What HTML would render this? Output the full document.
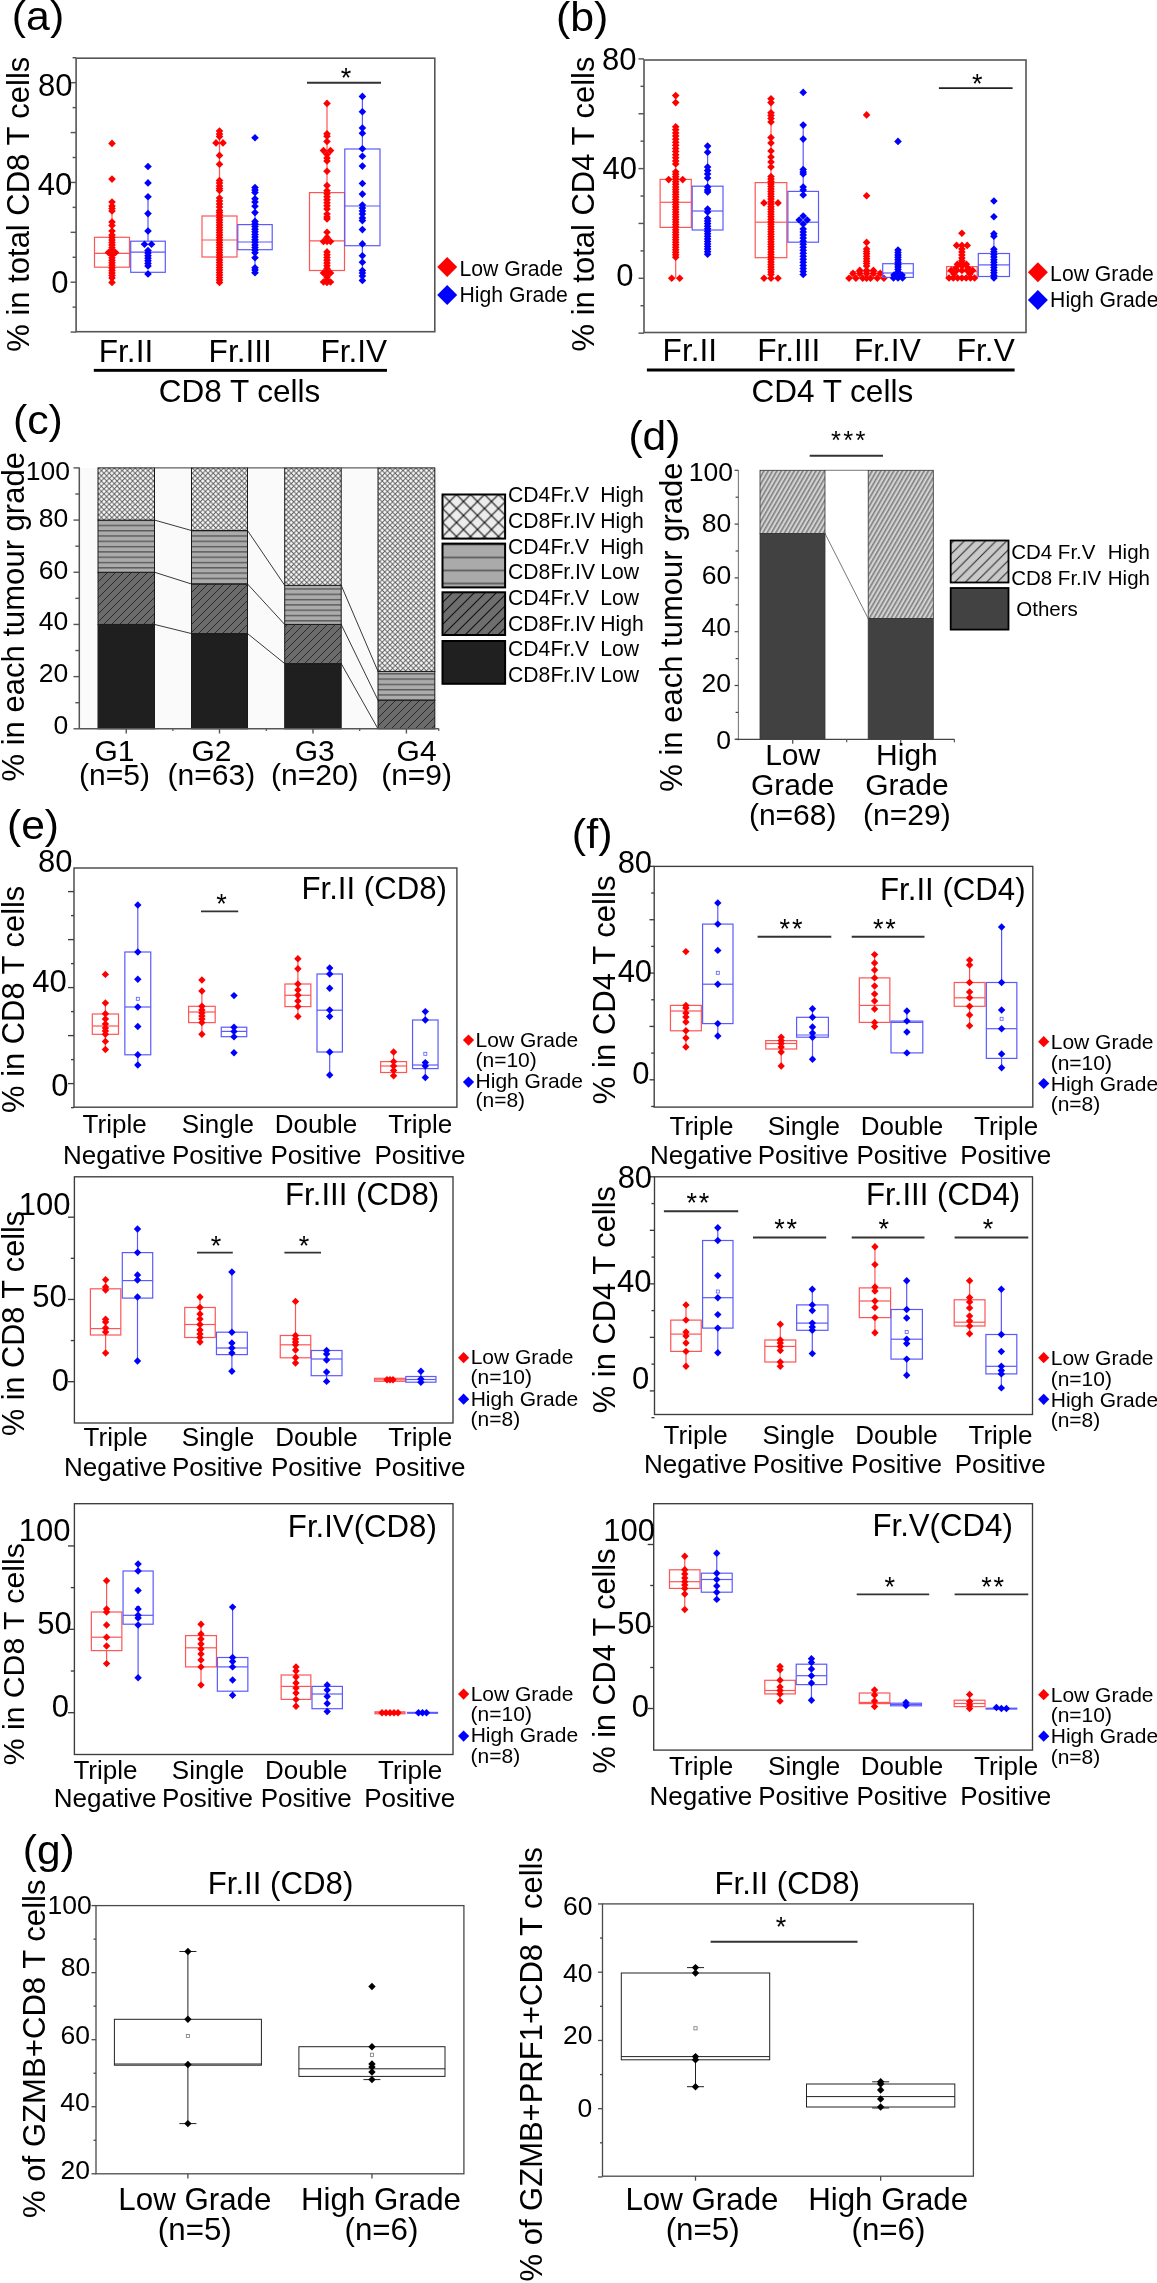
<!DOCTYPE html>
<html><head><meta charset="utf-8"><style>
html,body{margin:0;padding:0;background:#fff;}
svg{display:block;}
text{font-family:"Liberation Sans",sans-serif;}
svg{will-change:transform;}
</style></head><body>
<svg width="1157" height="2283" viewBox="0 0 1157 2283">
<defs>
<pattern id="pcross" patternUnits="userSpaceOnUse" width="5.2" height="5.2">
<rect width="5.2" height="5.2" fill="#fafafa"/>
<path d="M0 0L5.2 5.2M5.2 0L0 5.2" stroke="#5e5e5e" stroke-width="1.0"/>
</pattern>
<pattern id="phoriz" patternUnits="userSpaceOnUse" width="6" height="5.3">
<rect width="6" height="5.3" fill="#ababab"/>
<rect y="0" width="6" height="1.4" fill="#5a5a5a"/>
</pattern>
<pattern id="pdiag" patternUnits="userSpaceOnUse" width="8" height="8" patternTransform="rotate(0)">
<rect width="8" height="8" fill="#6b6b6b"/>
<path d="M-1 9L9 -1M-1 1L1 -1M7 9L9 7" stroke="#2b2b2b" stroke-width="1"/>
</pattern>
<pattern id="lcross" patternUnits="userSpaceOnUse" width="14" height="14" x="442.5" y="494.5">
<rect width="14" height="14" fill="#ececec"/>
<path d="M0 0L14 14M14 0L0 14" stroke="#111" stroke-width="1.2"/>
</pattern>
<pattern id="lhoriz" patternUnits="userSpaceOnUse" width="10" height="13" x="0" y="543.6">
<rect width="10" height="13" fill="#aaaaaa"/>
<rect y="0" width="10" height="1.6" fill="#555"/>
</pattern>
<pattern id="ldiag" patternUnits="userSpaceOnUse" width="11" height="11">
<rect width="11" height="11" fill="#6e6e6e"/>
<path d="M-1 12L12 -1M-1 1L1 -1M10 12L12 10" stroke="#111" stroke-width="1.1"/>
</pattern>
<pattern id="dhatch" patternUnits="userSpaceOnUse" width="3.75" height="10" patternTransform="rotate(30)">
<rect width="3.75" height="10" fill="#d2d2d2"/>
<rect width="1.55" height="10" fill="#7e7e7e"/>
</pattern>
<pattern id="lhatch" patternUnits="userSpaceOnUse" width="10.6" height="10.6">
<rect width="10.6" height="10.6" fill="#c9c9c9"/>
<path d="M-1 11.6L11.6 -1M-1 1L1 -1M9.6 11.6L11.6 9.6" stroke="#222" stroke-width="1"/>
</pattern>
</defs>
<rect width="1157" height="2283" fill="#fff"/>
<text transform="translate(11.85,30.21) scale(1.0439,1)" font-size="41" fill="#000">(a)</text>
<rect x="76.1" y="58.2" width="358.7" height="273.5" fill="none" stroke="#555555" stroke-width="1.6"/>
<line x1="70.6" y1="332.08" x2="76.1" y2="332.08" stroke="#555555" stroke-width="1.44" />
<line x1="72.6" y1="307.14" x2="76.1" y2="307.14" stroke="#555555" stroke-width="1.44" />
<line x1="70.6" y1="282.2" x2="76.1" y2="282.2" stroke="#555555" stroke-width="1.44" />
<line x1="72.6" y1="257.26" x2="76.1" y2="257.26" stroke="#555555" stroke-width="1.44" />
<line x1="70.6" y1="232.32" x2="76.1" y2="232.32" stroke="#555555" stroke-width="1.44" />
<line x1="72.6" y1="207.38" x2="76.1" y2="207.38" stroke="#555555" stroke-width="1.44" />
<line x1="70.6" y1="182.44" x2="76.1" y2="182.44" stroke="#555555" stroke-width="1.44" />
<line x1="72.6" y1="157.5" x2="76.1" y2="157.5" stroke="#555555" stroke-width="1.44" />
<line x1="70.6" y1="132.56" x2="76.1" y2="132.56" stroke="#555555" stroke-width="1.44" />
<line x1="72.6" y1="107.62" x2="76.1" y2="107.62" stroke="#555555" stroke-width="1.44" />
<line x1="70.6" y1="82.68" x2="76.1" y2="82.68" stroke="#555555" stroke-width="1.44" />
<line x1="72.6" y1="57.74" x2="76.1" y2="57.74" stroke="#555555" stroke-width="1.44" />
<text x="37.93" y="95.7" text-anchor="start" font-size="31" fill="#000" xml:space="preserve">80</text>
<text x="37.83" y="194.7" text-anchor="start" font-size="31" fill="#000" xml:space="preserve">40</text>
<text x="51.37" y="293.1" text-anchor="start" font-size="31" fill="#000" xml:space="preserve">0</text>
<text transform="translate(29.4,351.7) rotate(-90)" font-size="30.99" fill="#000">% in total CD8 T cells</text>
<line x1="112" y1="202" x2="112" y2="237.3" stroke="#ff5555" stroke-width="1.2" />
<line x1="112" y1="267.2" x2="112" y2="282.4" stroke="#ff5555" stroke-width="1.2" />
<rect x="94.5" y="237.3" width="35" height="29.9" fill="none" stroke="#ff5555" stroke-width="1.2"/>
<line x1="94.5" y1="253.3" x2="129.5" y2="253.3" stroke="#ff5555" stroke-width="1.2" />
<path d="M112 139.6L115.8 143.4L112 147.2L108.2 143.4Z" fill="#ff0000"/>
<path d="M112 175.3L115.8 179.1L112 182.9L108.2 179.1Z" fill="#ff0000"/>
<path d="M112 198.2L115.8 202L112 205.8L108.2 202Z" fill="#ff0000"/>
<path d="M112 202.2L115.8 206L112 209.8L108.2 206Z" fill="#ff0000"/>
<path d="M112 204.7L115.8 208.5L112 212.3L108.2 208.5Z" fill="#ff0000"/>
<path d="M112 207.2L115.8 211L112 214.8L108.2 211Z" fill="#ff0000"/>
<path d="M112 218.2L115.8 222L112 225.8L108.2 222Z" fill="#ff0000"/>
<path d="M112 221.7L115.8 225.5L112 229.3L108.2 225.5Z" fill="#ff0000"/>
<path d="M112 227.2L115.8 231L112 234.8L108.2 231Z" fill="#ff0000"/>
<path d="M112 231.2L115.8 235L112 238.8L108.2 235Z" fill="#ff0000"/>
<path d="M112 233.73L115.8 237.53L112 241.33L108.2 237.53Z" fill="#ff0000"/>
<path d="M112 236.26L115.8 240.06L112 243.86L108.2 240.06Z" fill="#ff0000"/>
<path d="M112 238.79L115.8 242.59L112 246.39L108.2 242.59Z" fill="#ff0000"/>
<path d="M112 241.32L115.8 245.12L112 248.92L108.2 245.12Z" fill="#ff0000"/>
<path d="M112 243.85L115.8 247.65L112 251.45L108.2 247.65Z" fill="#ff0000"/>
<path d="M112 246.38L115.8 250.18L112 253.98L108.2 250.18Z" fill="#ff0000"/>
<path d="M112 248.91L115.8 252.71L112 256.51L108.2 252.71Z" fill="#ff0000"/>
<path d="M112 251.44L115.8 255.24L112 259.04L108.2 255.24Z" fill="#ff0000"/>
<path d="M112 253.96L115.8 257.76L112 261.56L108.2 257.76Z" fill="#ff0000"/>
<path d="M112 256.49L115.8 260.29L112 264.09L108.2 260.29Z" fill="#ff0000"/>
<path d="M112 259.02L115.8 262.82L112 266.62L108.2 262.82Z" fill="#ff0000"/>
<path d="M112 261.55L115.8 265.35L112 269.15L108.2 265.35Z" fill="#ff0000"/>
<path d="M112 264.08L115.8 267.88L112 271.68L108.2 267.88Z" fill="#ff0000"/>
<path d="M112 266.61L115.8 270.41L112 274.21L108.2 270.41Z" fill="#ff0000"/>
<path d="M112 269.14L115.8 272.94L112 276.74L108.2 272.94Z" fill="#ff0000"/>
<path d="M112 271.67L115.8 275.47L112 279.27L108.2 275.47Z" fill="#ff0000"/>
<path d="M112 274.2L115.8 278L112 281.8L108.2 278Z" fill="#ff0000"/>
<path d="M112 278.6L115.8 282.4L112 286.2L108.2 282.4Z" fill="#ff0000"/>
<path d="M108.5 248.7L112.3 252.5L108.5 256.3L104.7 252.5Z" fill="#ff0000"/>
<path d="M115.5 248.7L119.3 252.5L115.5 256.3L111.7 252.5Z" fill="#ff0000"/>
<line x1="148" y1="196.7" x2="148" y2="241.2" stroke="#5a5aff" stroke-width="1.2" />
<line x1="148" y1="272.3" x2="148" y2="273.9" stroke="#5a5aff" stroke-width="1.2" />
<rect x="130.7" y="241.2" width="34.6" height="31.1" fill="none" stroke="#5a5aff" stroke-width="1.2"/>
<line x1="130.7" y1="252.1" x2="165.3" y2="252.1" stroke="#5a5aff" stroke-width="1.2" />
<path d="M148 162.7L151.8 166.5L148 170.3L144.2 166.5Z" fill="#0000ff"/>
<path d="M148 179.1L151.8 182.9L148 186.7L144.2 182.9Z" fill="#0000ff"/>
<path d="M148 192.9L151.8 196.7L148 200.5L144.2 196.7Z" fill="#0000ff"/>
<path d="M148 209.8L151.8 213.6L148 217.4L144.2 213.6Z" fill="#0000ff"/>
<path d="M148 227.2L151.8 231L148 234.8L144.2 231Z" fill="#0000ff"/>
<path d="M144.5 240.5L148.3 244.3L144.5 248.1L140.7 244.3Z" fill="#0000ff"/>
<path d="M151.5 240.5L155.3 244.3L151.5 248.1L147.7 244.3Z" fill="#0000ff"/>
<path d="M148 246.7L151.8 250.5L148 254.3L144.2 250.5Z" fill="#0000ff"/>
<path d="M148 249.28L151.8 253.08L148 256.88L144.2 253.08Z" fill="#0000ff"/>
<path d="M148 251.87L151.8 255.67L148 259.47L144.2 255.67Z" fill="#0000ff"/>
<path d="M148 254.45L151.8 258.25L148 262.05L144.2 258.25Z" fill="#0000ff"/>
<path d="M148 257.03L151.8 260.83L148 264.63L144.2 260.83Z" fill="#0000ff"/>
<path d="M148 259.62L151.8 263.42L148 267.22L144.2 263.42Z" fill="#0000ff"/>
<path d="M148 262.2L151.8 266L148 269.8L144.2 266Z" fill="#0000ff"/>
<path d="M148 270.1L151.8 273.9L148 277.7L144.2 273.9Z" fill="#0000ff"/>
<line x1="219.5" y1="131" x2="219.5" y2="216" stroke="#ff5555" stroke-width="1.2" />
<line x1="219.5" y1="257" x2="219.5" y2="282.5" stroke="#ff5555" stroke-width="1.2" />
<rect x="202" y="216" width="35" height="41" fill="none" stroke="#ff5555" stroke-width="1.2"/>
<line x1="202" y1="240" x2="237" y2="240" stroke="#ff5555" stroke-width="1.2" />
<path d="M219.5 127.2L223.3 131L219.5 134.8L215.7 131Z" fill="#ff0000"/>
<path d="M219.5 130.2L223.3 134L219.5 137.8L215.7 134Z" fill="#ff0000"/>
<path d="M219.5 132.8L223.3 136.6L219.5 140.4L215.7 136.6Z" fill="#ff0000"/>
<path d="M216 139.1L219.8 142.9L216 146.7L212.2 142.9Z" fill="#ff0000"/>
<path d="M223 139.1L226.8 142.9L223 146.7L219.2 142.9Z" fill="#ff0000"/>
<path d="M219.5 151.6L223.3 155.4L219.5 159.2L215.7 155.4Z" fill="#ff0000"/>
<path d="M219.5 160.4L223.3 164.2L219.5 168L215.7 164.2Z" fill="#ff0000"/>
<path d="M219.5 176.7L223.3 180.5L219.5 184.3L215.7 180.5Z" fill="#ff0000"/>
<path d="M219.5 179.2L223.3 183L219.5 186.8L215.7 183Z" fill="#ff0000"/>
<path d="M219.5 182.2L223.3 186L219.5 189.8L215.7 186Z" fill="#ff0000"/>
<path d="M219.5 184.7L223.3 188.5L219.5 192.3L215.7 188.5Z" fill="#ff0000"/>
<path d="M219.5 186.7L223.3 190.5L219.5 194.3L215.7 190.5Z" fill="#ff0000"/>
<path d="M219.5 194.2L223.3 198L219.5 201.8L215.7 198Z" fill="#ff0000"/>
<path d="M219.5 197.2L223.3 201L219.5 204.8L215.7 201Z" fill="#ff0000"/>
<path d="M219.5 200.2L223.3 204L219.5 207.8L215.7 204Z" fill="#ff0000"/>
<path d="M219.5 203.2L223.3 207L219.5 210.8L215.7 207Z" fill="#ff0000"/>
<path d="M219.5 206.7L223.3 210.5L219.5 214.3L215.7 210.5Z" fill="#ff0000"/>
<path d="M219.5 208.8L223.3 212.6L219.5 216.4L215.7 212.6Z" fill="#ff0000"/>
<path d="M219.5 211.3L223.3 215.1L219.5 218.9L215.7 215.1Z" fill="#ff0000"/>
<path d="M219.5 213.79L223.3 217.59L219.5 221.39L215.7 217.59Z" fill="#ff0000"/>
<path d="M219.5 216.29L223.3 220.09L219.5 223.89L215.7 220.09Z" fill="#ff0000"/>
<path d="M219.5 218.79L223.3 222.59L219.5 226.39L215.7 222.59Z" fill="#ff0000"/>
<path d="M219.5 221.28L223.3 225.08L219.5 228.88L215.7 225.08Z" fill="#ff0000"/>
<path d="M219.5 223.78L223.3 227.58L219.5 231.38L215.7 227.58Z" fill="#ff0000"/>
<path d="M219.5 226.27L223.3 230.07L219.5 233.88L215.7 230.07Z" fill="#ff0000"/>
<path d="M219.5 228.77L223.3 232.57L219.5 236.37L215.7 232.57Z" fill="#ff0000"/>
<path d="M219.5 231.27L223.3 235.07L219.5 238.87L215.7 235.07Z" fill="#ff0000"/>
<path d="M219.5 233.76L223.3 237.56L219.5 241.36L215.7 237.56Z" fill="#ff0000"/>
<path d="M219.5 236.26L223.3 240.06L219.5 243.86L215.7 240.06Z" fill="#ff0000"/>
<path d="M219.5 238.76L223.3 242.56L219.5 246.36L215.7 242.56Z" fill="#ff0000"/>
<path d="M219.5 241.25L223.3 245.05L219.5 248.85L215.7 245.05Z" fill="#ff0000"/>
<path d="M219.5 243.75L223.3 247.55L219.5 251.35L215.7 247.55Z" fill="#ff0000"/>
<path d="M219.5 246.25L223.3 250.05L219.5 253.85L215.7 250.05Z" fill="#ff0000"/>
<path d="M219.5 248.74L223.3 252.54L219.5 256.34L215.7 252.54Z" fill="#ff0000"/>
<path d="M219.5 251.24L223.3 255.04L219.5 258.84L215.7 255.04Z" fill="#ff0000"/>
<path d="M219.5 253.74L223.3 257.54L219.5 261.34L215.7 257.54Z" fill="#ff0000"/>
<path d="M219.5 256.23L223.3 260.03L219.5 263.83L215.7 260.03Z" fill="#ff0000"/>
<path d="M219.5 258.73L223.3 262.53L219.5 266.33L215.7 262.53Z" fill="#ff0000"/>
<path d="M219.5 261.22L223.3 265.02L219.5 268.82L215.7 265.02Z" fill="#ff0000"/>
<path d="M219.5 263.72L223.3 267.52L219.5 271.32L215.7 267.52Z" fill="#ff0000"/>
<path d="M219.5 266.22L223.3 270.02L219.5 273.82L215.7 270.02Z" fill="#ff0000"/>
<path d="M219.5 268.71L223.3 272.51L219.5 276.31L215.7 272.51Z" fill="#ff0000"/>
<path d="M219.5 271.21L223.3 275.01L219.5 278.81L215.7 275.01Z" fill="#ff0000"/>
<path d="M219.5 273.71L223.3 277.51L219.5 281.31L215.7 277.51Z" fill="#ff0000"/>
<path d="M219.5 276.2L223.3 280L219.5 283.8L215.7 280Z" fill="#ff0000"/>
<path d="M219.5 278.7L223.3 282.5L219.5 286.3L215.7 282.5Z" fill="#ff0000"/>
<line x1="255" y1="187.5" x2="255" y2="224.6" stroke="#5a5aff" stroke-width="1.2" />
<line x1="255" y1="249.7" x2="255" y2="272.7" stroke="#5a5aff" stroke-width="1.2" />
<rect x="237.8" y="224.6" width="34.4" height="25.1" fill="none" stroke="#5a5aff" stroke-width="1.2"/>
<line x1="237.8" y1="242" x2="272.2" y2="242" stroke="#5a5aff" stroke-width="1.2" />
<path d="M255 134L258.8 137.8L255 141.6L251.2 137.8Z" fill="#0000ff"/>
<path d="M255 183.7L258.8 187.5L255 191.3L251.2 187.5Z" fill="#0000ff"/>
<path d="M255 186.2L258.8 190L255 193.8L251.2 190Z" fill="#0000ff"/>
<path d="M255 188.7L258.8 192.5L255 196.3L251.2 192.5Z" fill="#0000ff"/>
<path d="M255 195L258.8 198.8L255 202.6L251.2 198.8Z" fill="#0000ff"/>
<path d="M255 198.2L258.8 202L255 205.8L251.2 202Z" fill="#0000ff"/>
<path d="M255 202.5L258.8 206.3L255 210.1L251.2 206.3Z" fill="#0000ff"/>
<path d="M255 208.8L258.8 212.6L255 216.4L251.2 212.6Z" fill="#0000ff"/>
<path d="M255 217.6L258.8 221.4L255 225.2L251.2 221.4Z" fill="#0000ff"/>
<path d="M255 220.21L258.8 224.01L255 227.81L251.2 224.01Z" fill="#0000ff"/>
<path d="M255 222.82L258.8 226.62L255 230.42L251.2 226.62Z" fill="#0000ff"/>
<path d="M255 225.42L258.8 229.22L255 233.03L251.2 229.22Z" fill="#0000ff"/>
<path d="M255 228.03L258.8 231.83L255 235.63L251.2 231.83Z" fill="#0000ff"/>
<path d="M255 230.64L258.8 234.44L255 238.24L251.2 234.44Z" fill="#0000ff"/>
<path d="M255 233.25L258.8 237.05L255 240.85L251.2 237.05Z" fill="#0000ff"/>
<path d="M255 235.86L258.8 239.66L255 243.46L251.2 239.66Z" fill="#0000ff"/>
<path d="M255 238.47L258.8 242.27L255 246.07L251.2 242.27Z" fill="#0000ff"/>
<path d="M255 241.07L258.8 244.88L255 248.68L251.2 244.88Z" fill="#0000ff"/>
<path d="M255 243.68L258.8 247.48L255 251.28L251.2 247.48Z" fill="#0000ff"/>
<path d="M255 246.29L258.8 250.09L255 253.89L251.2 250.09Z" fill="#0000ff"/>
<path d="M255 248.9L258.8 252.7L255 256.5L251.2 252.7Z" fill="#0000ff"/>
<path d="M255 253.9L258.8 257.7L255 261.5L251.2 257.7Z" fill="#0000ff"/>
<path d="M255 263.9L258.8 267.7L255 271.5L251.2 267.7Z" fill="#0000ff"/>
<path d="M255 266.2L258.8 270L255 273.8L251.2 270Z" fill="#0000ff"/>
<path d="M255 268.9L258.8 272.7L255 276.5L251.2 272.7Z" fill="#0000ff"/>
<line x1="327" y1="103.4" x2="327" y2="192.6" stroke="#ff5555" stroke-width="1.2" />
<line x1="327" y1="270.5" x2="327" y2="282.5" stroke="#ff5555" stroke-width="1.2" />
<rect x="309.5" y="192.6" width="35" height="77.9" fill="none" stroke="#ff5555" stroke-width="1.2"/>
<line x1="309.5" y1="240.8" x2="344.5" y2="240.8" stroke="#ff5555" stroke-width="1.2" />
<path d="M327 99.6L330.8 103.4L327 107.2L323.2 103.4Z" fill="#ff0000"/>
<path d="M327 129.9L330.8 133.7L327 137.5L323.2 133.7Z" fill="#ff0000"/>
<path d="M327 132.5L330.8 136.3L327 140.1L323.2 136.3Z" fill="#ff0000"/>
<path d="M327 137.7L330.8 141.5L327 145.3L323.2 141.5Z" fill="#ff0000"/>
<path d="M323.5 146.8L327.3 150.6L323.5 154.4L319.7 150.6Z" fill="#ff0000"/>
<path d="M330.5 146.8L334.3 150.6L330.5 154.4L326.7 150.6Z" fill="#ff0000"/>
<path d="M327 150.7L330.8 154.5L327 158.3L323.2 154.5Z" fill="#ff0000"/>
<path d="M327 154.2L330.8 158L327 161.8L323.2 158Z" fill="#ff0000"/>
<path d="M327 157.2L330.8 161L327 164.8L323.2 161Z" fill="#ff0000"/>
<path d="M327 167.5L330.8 171.3L327 175.1L323.2 171.3Z" fill="#ff0000"/>
<path d="M327 181.8L330.8 185.6L327 189.4L323.2 185.6Z" fill="#ff0000"/>
<path d="M327 186.9L330.8 190.7L327 194.5L323.2 190.7Z" fill="#ff0000"/>
<path d="M327 189.93L330.8 193.73L327 197.53L323.2 193.73Z" fill="#ff0000"/>
<path d="M327 192.97L330.8 196.77L327 200.57L323.2 196.77Z" fill="#ff0000"/>
<path d="M327 196L330.8 199.8L327 203.6L323.2 199.8Z" fill="#ff0000"/>
<path d="M327 199.03L330.8 202.83L327 206.63L323.2 202.83Z" fill="#ff0000"/>
<path d="M327 202.07L330.8 205.87L327 209.67L323.2 205.87Z" fill="#ff0000"/>
<path d="M327 205.1L330.8 208.9L327 212.7L323.2 208.9Z" fill="#ff0000"/>
<path d="M327 210.2L330.8 214L327 217.8L323.2 214Z" fill="#ff0000"/>
<path d="M327 213.2L330.8 217L327 220.8L323.2 217Z" fill="#ff0000"/>
<path d="M327 215.2L330.8 219L327 222.8L323.2 219Z" fill="#ff0000"/>
<path d="M327 228.4L330.8 232.2L327 236L323.2 232.2Z" fill="#ff0000"/>
<path d="M327 233.6L330.8 237.4L327 241.2L323.2 237.4Z" fill="#ff0000"/>
<path d="M323.5 237.7L327.3 241.5L323.5 245.3L319.7 241.5Z" fill="#ff0000"/>
<path d="M330.5 237.7L334.3 241.5L330.5 245.3L326.7 241.5Z" fill="#ff0000"/>
<path d="M327 248.1L330.8 251.9L327 255.7L323.2 251.9Z" fill="#ff0000"/>
<path d="M327 250.88L330.8 254.68L327 258.48L323.2 254.68Z" fill="#ff0000"/>
<path d="M327 253.66L330.8 257.46L327 261.26L323.2 257.46Z" fill="#ff0000"/>
<path d="M327 256.45L330.8 260.25L327 264.05L323.2 260.25Z" fill="#ff0000"/>
<path d="M327 259.23L330.8 263.03L327 266.83L323.2 263.03Z" fill="#ff0000"/>
<path d="M327 262.01L330.8 265.81L327 269.61L323.2 265.81Z" fill="#ff0000"/>
<path d="M327 264.79L330.8 268.59L327 272.39L323.2 268.59Z" fill="#ff0000"/>
<path d="M327 267.57L330.8 271.37L327 275.17L323.2 271.37Z" fill="#ff0000"/>
<path d="M327 270.35L330.8 274.15L327 277.95L323.2 274.15Z" fill="#ff0000"/>
<path d="M327 273.14L330.8 276.94L327 280.74L323.2 276.94Z" fill="#ff0000"/>
<path d="M327 275.92L330.8 279.72L327 283.52L323.2 279.72Z" fill="#ff0000"/>
<path d="M327 278.7L330.8 282.5L327 286.3L323.2 282.5Z" fill="#ff0000"/>
<path d="M323.5 269.1L327.3 272.9L323.5 276.7L319.7 272.9Z" fill="#ff0000"/>
<path d="M330.5 269.1L334.3 272.9L330.5 276.7L326.7 272.9Z" fill="#ff0000"/>
<path d="M323.5 278.2L327.3 282L323.5 285.8L319.7 282Z" fill="#ff0000"/>
<path d="M330.5 278.2L334.3 282L330.5 285.8L326.7 282Z" fill="#ff0000"/>
<path d="M327 237.7L330.8 241.5L327 245.3L323.2 241.5Z" fill="#ff0000"/>
<line x1="362.4" y1="96.4" x2="362.4" y2="149" stroke="#5a5aff" stroke-width="1.2" />
<line x1="362.4" y1="245.7" x2="362.4" y2="282" stroke="#5a5aff" stroke-width="1.2" />
<rect x="344.8" y="149" width="35.2" height="96.7" fill="none" stroke="#5a5aff" stroke-width="1.2"/>
<line x1="344.8" y1="206" x2="380" y2="206" stroke="#5a5aff" stroke-width="1.2" />
<path d="M362.4 92.6L366.2 96.4L362.4 100.2L358.6 96.4Z" fill="#0000ff"/>
<path d="M362.4 107.9L366.2 111.7L362.4 115.5L358.6 111.7Z" fill="#0000ff"/>
<path d="M362.4 124.2L366.2 128L362.4 131.8L358.6 128Z" fill="#0000ff"/>
<path d="M362.4 129.4L366.2 133.2L362.4 137L358.6 133.2Z" fill="#0000ff"/>
<path d="M362.4 144.9L366.2 148.7L362.4 152.5L358.6 148.7Z" fill="#0000ff"/>
<path d="M362.4 152.5L366.2 156.3L362.4 160.1L358.6 156.3Z" fill="#0000ff"/>
<path d="M362.4 162.3L366.2 166.1L362.4 169.9L358.6 166.1Z" fill="#0000ff"/>
<path d="M362.4 179.7L366.2 183.5L362.4 187.3L358.6 183.5Z" fill="#0000ff"/>
<path d="M362.4 190.3L366.2 194.1L362.4 197.9L358.6 194.1Z" fill="#0000ff"/>
<path d="M362.4 201.2L366.2 205L362.4 208.8L358.6 205Z" fill="#0000ff"/>
<path d="M362.4 204.2L366.2 208L362.4 211.8L358.6 208Z" fill="#0000ff"/>
<path d="M362.4 207.2L366.2 211L362.4 214.8L358.6 211Z" fill="#0000ff"/>
<path d="M362.4 210.2L366.2 214L362.4 217.8L358.6 214Z" fill="#0000ff"/>
<path d="M362.4 214.2L366.2 218L362.4 221.8L358.6 218Z" fill="#0000ff"/>
<path d="M362.4 216.8L366.2 220.6L362.4 224.4L358.6 220.6Z" fill="#0000ff"/>
<path d="M362.4 225.8L366.2 229.6L362.4 233.4L358.6 229.6Z" fill="#0000ff"/>
<path d="M362.4 240.1L366.2 243.9L362.4 247.7L358.6 243.9Z" fill="#0000ff"/>
<path d="M362.4 251.9L366.2 255.7L362.4 259.5L358.6 255.7Z" fill="#0000ff"/>
<path d="M362.4 258.4L366.2 262.2L362.4 266L358.6 262.2Z" fill="#0000ff"/>
<path d="M362.4 266.7L366.2 270.5L362.4 274.3L358.6 270.5Z" fill="#0000ff"/>
<path d="M362.4 269.2L366.2 273L362.4 276.8L358.6 273Z" fill="#0000ff"/>
<path d="M362.4 272.2L366.2 276L362.4 279.8L358.6 276Z" fill="#0000ff"/>
<path d="M362.4 276.6L366.2 280.4L362.4 284.2L358.6 280.4Z" fill="#0000ff"/>
<line x1="307" y1="82.8" x2="381" y2="82.8" stroke="#333" stroke-width="1.9" />
<text x="340.64" y="87.33" text-anchor="start" font-size="27" fill="#000" xml:space="preserve">*</text>
<text x="98.8" y="362" text-anchor="start" font-size="31.6" fill="#000" xml:space="preserve">Fr.II</text>
<text x="208.6" y="362" text-anchor="start" font-size="31.6" fill="#000" xml:space="preserve">Fr.III</text>
<text x="320.4" y="362" text-anchor="start" font-size="31.6" fill="#000" xml:space="preserve">Fr.IV</text>
<rect x="93.8" y="368.9" width="293.2" height="2.9" fill="#000" stroke="none" stroke-width="1"/>
<text x="158.7" y="401.7" text-anchor="start" font-size="31.5" fill="#000" xml:space="preserve">CD8 T cells</text>
<path d="M447.2 257L457.2 267L447.2 277L437.2 267Z" fill="#ff0000"/>
<path d="M447.2 285L457.2 295L447.2 305L437.2 295Z" fill="#0000ff"/>
<text x="459.5" y="275.7" text-anchor="start" font-size="21.2" fill="#000" xml:space="preserve">Low Grade</text>
<text x="459.5" y="301.6" text-anchor="start" font-size="21.2" fill="#000" xml:space="preserve">High Grade</text>
<text transform="translate(555.94,30.61) scale(1.0461,1)" font-size="41" fill="#000">(b)</text>
<rect x="644" y="60" width="382" height="272.5" fill="none" stroke="#555555" stroke-width="1.6"/>
<line x1="638.5" y1="333.15" x2="644" y2="333.15" stroke="#555555" stroke-width="1.44" />
<line x1="640.5" y1="305.73" x2="644" y2="305.73" stroke="#555555" stroke-width="1.44" />
<line x1="638.5" y1="278.3" x2="644" y2="278.3" stroke="#555555" stroke-width="1.44" />
<line x1="640.5" y1="250.88" x2="644" y2="250.88" stroke="#555555" stroke-width="1.44" />
<line x1="638.5" y1="223.45" x2="644" y2="223.45" stroke="#555555" stroke-width="1.44" />
<line x1="640.5" y1="196.03" x2="644" y2="196.03" stroke="#555555" stroke-width="1.44" />
<line x1="638.5" y1="168.6" x2="644" y2="168.6" stroke="#555555" stroke-width="1.44" />
<line x1="640.5" y1="141.18" x2="644" y2="141.18" stroke="#555555" stroke-width="1.44" />
<line x1="638.5" y1="113.75" x2="644" y2="113.75" stroke="#555555" stroke-width="1.44" />
<line x1="640.5" y1="86.32" x2="644" y2="86.32" stroke="#555555" stroke-width="1.44" />
<line x1="638.5" y1="58.9" x2="644" y2="58.9" stroke="#555555" stroke-width="1.44" />
<text x="601.93" y="70" text-anchor="start" font-size="31" fill="#000" xml:space="preserve">80</text>
<text x="602.53" y="178.6" text-anchor="start" font-size="31" fill="#000" xml:space="preserve">40</text>
<text x="616.17" y="285.7" text-anchor="start" font-size="31" fill="#000" xml:space="preserve">0</text>
<text transform="translate(594.2,351.5) rotate(-90)" font-size="30.97" fill="#000">% in total CD4 T cells</text>
<line x1="675.7" y1="126.7" x2="675.7" y2="179.4" stroke="#ff5555" stroke-width="1.2" />
<line x1="675.7" y1="227.4" x2="675.7" y2="278.3" stroke="#ff5555" stroke-width="1.2" />
<rect x="660.1" y="179.4" width="31.2" height="48" fill="none" stroke="#ff5555" stroke-width="1.2"/>
<line x1="660.1" y1="202.3" x2="691.3" y2="202.3" stroke="#ff5555" stroke-width="1.2" />
<path d="M675.7 91.8L679.5 95.6L675.7 99.4L671.9 95.6Z" fill="#ff0000"/>
<path d="M675.7 98.8L679.5 102.6L675.7 106.4L671.9 102.6Z" fill="#ff0000"/>
<path d="M675.7 122.9L679.5 126.7L675.7 130.5L671.9 126.7Z" fill="#ff0000"/>
<path d="M675.7 126.01L679.5 129.81L675.7 133.61L671.9 129.81Z" fill="#ff0000"/>
<path d="M675.7 129.12L679.5 132.92L675.7 136.72L671.9 132.92Z" fill="#ff0000"/>
<path d="M675.7 132.22L679.5 136.03L675.7 139.83L671.9 136.03Z" fill="#ff0000"/>
<path d="M675.7 135.33L679.5 139.13L675.7 142.93L671.9 139.13Z" fill="#ff0000"/>
<path d="M675.7 138.44L679.5 142.24L675.7 146.04L671.9 142.24Z" fill="#ff0000"/>
<path d="M675.7 141.55L679.5 145.35L675.7 149.15L671.9 145.35Z" fill="#ff0000"/>
<path d="M675.7 144.66L679.5 148.46L675.7 152.26L671.9 148.46Z" fill="#ff0000"/>
<path d="M675.7 147.77L679.5 151.57L675.7 155.37L671.9 151.57Z" fill="#ff0000"/>
<path d="M675.7 150.88L679.5 154.68L675.7 158.48L671.9 154.68Z" fill="#ff0000"/>
<path d="M675.7 153.98L679.5 157.78L675.7 161.58L671.9 157.78Z" fill="#ff0000"/>
<path d="M675.7 157.09L679.5 160.89L675.7 164.69L671.9 160.89Z" fill="#ff0000"/>
<path d="M675.7 160.2L679.5 164L675.7 167.8L671.9 164Z" fill="#ff0000"/>
<path d="M675.7 168L679.5 171.8L675.7 175.6L671.9 171.8Z" fill="#ff0000"/>
<path d="M675.7 170.51L679.5 174.31L675.7 178.11L671.9 174.31Z" fill="#ff0000"/>
<path d="M675.7 173.03L679.5 176.83L675.7 180.63L671.9 176.83Z" fill="#ff0000"/>
<path d="M675.7 175.54L679.5 179.34L675.7 183.14L671.9 179.34Z" fill="#ff0000"/>
<path d="M675.7 178.06L679.5 181.86L675.7 185.66L671.9 181.86Z" fill="#ff0000"/>
<path d="M675.7 180.57L679.5 184.37L675.7 188.17L671.9 184.37Z" fill="#ff0000"/>
<path d="M675.7 183.09L679.5 186.89L675.7 190.69L671.9 186.89Z" fill="#ff0000"/>
<path d="M675.7 185.6L679.5 189.4L675.7 193.2L671.9 189.4Z" fill="#ff0000"/>
<path d="M675.7 188.12L679.5 191.92L675.7 195.72L671.9 191.92Z" fill="#ff0000"/>
<path d="M675.7 190.63L679.5 194.43L675.7 198.23L671.9 194.43Z" fill="#ff0000"/>
<path d="M675.7 193.15L679.5 196.95L675.7 200.75L671.9 196.95Z" fill="#ff0000"/>
<path d="M675.7 195.66L679.5 199.46L675.7 203.26L671.9 199.46Z" fill="#ff0000"/>
<path d="M675.7 198.18L679.5 201.98L675.7 205.78L671.9 201.98Z" fill="#ff0000"/>
<path d="M675.7 200.69L679.5 204.49L675.7 208.29L671.9 204.49Z" fill="#ff0000"/>
<path d="M675.7 203.21L679.5 207.01L675.7 210.81L671.9 207.01Z" fill="#ff0000"/>
<path d="M675.7 205.72L679.5 209.52L675.7 213.32L671.9 209.52Z" fill="#ff0000"/>
<path d="M675.7 208.24L679.5 212.04L675.7 215.84L671.9 212.04Z" fill="#ff0000"/>
<path d="M675.7 210.75L679.5 214.55L675.7 218.35L671.9 214.55Z" fill="#ff0000"/>
<path d="M675.7 213.26L679.5 217.06L675.7 220.86L671.9 217.06Z" fill="#ff0000"/>
<path d="M675.7 215.78L679.5 219.58L675.7 223.38L671.9 219.58Z" fill="#ff0000"/>
<path d="M675.7 218.29L679.5 222.09L675.7 225.89L671.9 222.09Z" fill="#ff0000"/>
<path d="M675.7 220.81L679.5 224.61L675.7 228.41L671.9 224.61Z" fill="#ff0000"/>
<path d="M675.7 223.32L679.5 227.12L675.7 230.92L671.9 227.12Z" fill="#ff0000"/>
<path d="M675.7 225.84L679.5 229.64L675.7 233.44L671.9 229.64Z" fill="#ff0000"/>
<path d="M675.7 228.35L679.5 232.15L675.7 235.95L671.9 232.15Z" fill="#ff0000"/>
<path d="M675.7 230.87L679.5 234.67L675.7 238.47L671.9 234.67Z" fill="#ff0000"/>
<path d="M675.7 233.38L679.5 237.18L675.7 240.98L671.9 237.18Z" fill="#ff0000"/>
<path d="M675.7 235.9L679.5 239.7L675.7 243.5L671.9 239.7Z" fill="#ff0000"/>
<path d="M675.7 238.41L679.5 242.21L675.7 246.01L671.9 242.21Z" fill="#ff0000"/>
<path d="M675.7 240.93L679.5 244.73L675.7 248.53L671.9 244.73Z" fill="#ff0000"/>
<path d="M675.7 243.44L679.5 247.24L675.7 251.04L671.9 247.24Z" fill="#ff0000"/>
<path d="M675.7 245.96L679.5 249.76L675.7 253.56L671.9 249.76Z" fill="#ff0000"/>
<path d="M675.7 248.47L679.5 252.27L675.7 256.07L671.9 252.27Z" fill="#ff0000"/>
<path d="M675.7 250.99L679.5 254.79L675.7 258.59L671.9 254.79Z" fill="#ff0000"/>
<path d="M675.7 253.5L679.5 257.3L675.7 261.1L671.9 257.3Z" fill="#ff0000"/>
<path d="M668.7 175.8L672.5 179.6L668.7 183.4L664.9 179.6Z" fill="#ff0000"/>
<path d="M682.7 175.8L686.5 179.6L682.7 183.4L678.9 179.6Z" fill="#ff0000"/>
<path d="M671.7 274.5L675.5 278.3L671.7 282.1L667.9 278.3Z" fill="#ff0000"/>
<path d="M679.7 274.5L683.5 278.3L679.7 282.1L675.9 278.3Z" fill="#ff0000"/>
<line x1="707.6" y1="146.1" x2="707.6" y2="186.2" stroke="#5a5aff" stroke-width="1.2" />
<line x1="707.6" y1="230" x2="707.6" y2="254.2" stroke="#5a5aff" stroke-width="1.2" />
<rect x="692.2" y="186.2" width="30.8" height="43.8" fill="none" stroke="#5a5aff" stroke-width="1.2"/>
<line x1="692.2" y1="211" x2="723" y2="211" stroke="#5a5aff" stroke-width="1.2" />
<path d="M707.6 142.3L711.4 146.1L707.6 149.9L703.8 146.1Z" fill="#0000ff"/>
<path d="M707.6 148.5L711.4 152.3L707.6 156.1L703.8 152.3Z" fill="#0000ff"/>
<path d="M707.6 163.2L711.4 167L707.6 170.8L703.8 167Z" fill="#0000ff"/>
<path d="M707.6 166.7L711.4 170.5L707.6 174.3L703.8 170.5Z" fill="#0000ff"/>
<path d="M707.6 170.2L711.4 174L707.6 177.8L703.8 174Z" fill="#0000ff"/>
<path d="M707.6 174.2L711.4 178L707.6 181.8L703.8 178Z" fill="#0000ff"/>
<path d="M707.6 183.2L711.4 187L707.6 190.8L703.8 187Z" fill="#0000ff"/>
<path d="M707.6 186.2L711.4 190L707.6 193.8L703.8 190Z" fill="#0000ff"/>
<path d="M707.6 188.2L711.4 192L707.6 195.8L703.8 192Z" fill="#0000ff"/>
<path d="M707.6 205.2L711.4 209L707.6 212.8L703.8 209Z" fill="#0000ff"/>
<path d="M707.6 208.2L711.4 212L707.6 215.8L703.8 212Z" fill="#0000ff"/>
<path d="M707.6 214.7L711.4 218.5L707.6 222.3L703.8 218.5Z" fill="#0000ff"/>
<path d="M707.6 217.25L711.4 221.05L707.6 224.85L703.8 221.05Z" fill="#0000ff"/>
<path d="M707.6 219.8L711.4 223.6L707.6 227.4L703.8 223.6Z" fill="#0000ff"/>
<path d="M707.6 222.35L711.4 226.15L707.6 229.95L703.8 226.15Z" fill="#0000ff"/>
<path d="M707.6 224.9L711.4 228.7L707.6 232.5L703.8 228.7Z" fill="#0000ff"/>
<path d="M707.6 227.45L711.4 231.25L707.6 235.05L703.8 231.25Z" fill="#0000ff"/>
<path d="M707.6 230L711.4 233.8L707.6 237.6L703.8 233.8Z" fill="#0000ff"/>
<path d="M707.6 232.55L711.4 236.35L707.6 240.15L703.8 236.35Z" fill="#0000ff"/>
<path d="M707.6 235.1L711.4 238.9L707.6 242.7L703.8 238.9Z" fill="#0000ff"/>
<path d="M707.6 237.65L711.4 241.45L707.6 245.25L703.8 241.45Z" fill="#0000ff"/>
<path d="M707.6 240.2L711.4 244L707.6 247.8L703.8 244Z" fill="#0000ff"/>
<path d="M707.6 242.75L711.4 246.55L707.6 250.35L703.8 246.55Z" fill="#0000ff"/>
<path d="M707.6 245.3L711.4 249.1L707.6 252.9L703.8 249.1Z" fill="#0000ff"/>
<path d="M707.6 247.85L711.4 251.65L707.6 255.45L703.8 251.65Z" fill="#0000ff"/>
<path d="M707.6 250.4L711.4 254.2L707.6 258L703.8 254.2Z" fill="#0000ff"/>
<line x1="771" y1="98.7" x2="771" y2="182.6" stroke="#ff5555" stroke-width="1.2" />
<line x1="771" y1="257.7" x2="771" y2="278.3" stroke="#ff5555" stroke-width="1.2" />
<rect x="755.2" y="182.6" width="31.6" height="75.1" fill="none" stroke="#ff5555" stroke-width="1.2"/>
<line x1="755.2" y1="222.2" x2="786.8" y2="222.2" stroke="#ff5555" stroke-width="1.2" />
<path d="M771 94.9L774.8 98.7L771 102.5L767.2 98.7Z" fill="#ff0000"/>
<path d="M771 98.8L774.8 102.6L771 106.4L767.2 102.6Z" fill="#ff0000"/>
<path d="M771 108.9L774.8 112.7L771 116.5L767.2 112.7Z" fill="#ff0000"/>
<path d="M771 111.7L774.8 115.5L771 119.3L767.2 115.5Z" fill="#ff0000"/>
<path d="M771 114.7L774.8 118.5L771 122.3L767.2 118.5Z" fill="#ff0000"/>
<path d="M771 118.2L774.8 122L771 125.8L767.2 122Z" fill="#ff0000"/>
<path d="M771 133.8L774.8 137.6L771 141.4L767.2 137.6Z" fill="#ff0000"/>
<path d="M771 139.2L774.8 143L771 146.8L767.2 143Z" fill="#ff0000"/>
<path d="M771 147.2L774.8 151L771 154.8L767.2 151Z" fill="#ff0000"/>
<path d="M771 153.2L774.8 157L771 160.8L767.2 157Z" fill="#ff0000"/>
<path d="M771 158.2L774.8 162L771 165.8L767.2 162Z" fill="#ff0000"/>
<path d="M771 163.2L774.8 167L771 170.8L767.2 167Z" fill="#ff0000"/>
<path d="M771 172.7L774.8 176.5L771 180.3L767.2 176.5Z" fill="#ff0000"/>
<path d="M771 175.21L774.8 179.01L771 182.81L767.2 179.01Z" fill="#ff0000"/>
<path d="M771 177.73L774.8 181.53L771 185.33L767.2 181.53Z" fill="#ff0000"/>
<path d="M771 180.24L774.8 184.04L771 187.84L767.2 184.04Z" fill="#ff0000"/>
<path d="M771 182.75L774.8 186.55L771 190.35L767.2 186.55Z" fill="#ff0000"/>
<path d="M771 185.26L774.8 189.06L771 192.86L767.2 189.06Z" fill="#ff0000"/>
<path d="M771 187.78L774.8 191.58L771 195.38L767.2 191.58Z" fill="#ff0000"/>
<path d="M771 190.29L774.8 194.09L771 197.89L767.2 194.09Z" fill="#ff0000"/>
<path d="M771 192.8L774.8 196.6L771 200.4L767.2 196.6Z" fill="#ff0000"/>
<path d="M771 195.32L774.8 199.12L771 202.92L767.2 199.12Z" fill="#ff0000"/>
<path d="M771 197.83L774.8 201.63L771 205.43L767.2 201.63Z" fill="#ff0000"/>
<path d="M771 200.34L774.8 204.14L771 207.94L767.2 204.14Z" fill="#ff0000"/>
<path d="M771 202.85L774.8 206.65L771 210.45L767.2 206.65Z" fill="#ff0000"/>
<path d="M771 205.37L774.8 209.17L771 212.97L767.2 209.17Z" fill="#ff0000"/>
<path d="M771 207.88L774.8 211.68L771 215.48L767.2 211.68Z" fill="#ff0000"/>
<path d="M771 210.39L774.8 214.19L771 217.99L767.2 214.19Z" fill="#ff0000"/>
<path d="M771 212.91L774.8 216.71L771 220.51L767.2 216.71Z" fill="#ff0000"/>
<path d="M771 215.42L774.8 219.22L771 223.02L767.2 219.22Z" fill="#ff0000"/>
<path d="M771 217.93L774.8 221.73L771 225.53L767.2 221.73Z" fill="#ff0000"/>
<path d="M771 220.44L774.8 224.24L771 228.04L767.2 224.24Z" fill="#ff0000"/>
<path d="M771 222.96L774.8 226.76L771 230.56L767.2 226.76Z" fill="#ff0000"/>
<path d="M771 225.47L774.8 229.27L771 233.07L767.2 229.27Z" fill="#ff0000"/>
<path d="M771 227.98L774.8 231.78L771 235.58L767.2 231.78Z" fill="#ff0000"/>
<path d="M771 230.49L774.8 234.29L771 238.09L767.2 234.29Z" fill="#ff0000"/>
<path d="M771 233.01L774.8 236.81L771 240.61L767.2 236.81Z" fill="#ff0000"/>
<path d="M771 235.52L774.8 239.32L771 243.12L767.2 239.32Z" fill="#ff0000"/>
<path d="M771 238.03L774.8 241.83L771 245.63L767.2 241.83Z" fill="#ff0000"/>
<path d="M771 240.55L774.8 244.35L771 248.15L767.2 244.35Z" fill="#ff0000"/>
<path d="M771 243.06L774.8 246.86L771 250.66L767.2 246.86Z" fill="#ff0000"/>
<path d="M771 245.57L774.8 249.37L771 253.17L767.2 249.37Z" fill="#ff0000"/>
<path d="M771 248.08L774.8 251.88L771 255.68L767.2 251.88Z" fill="#ff0000"/>
<path d="M771 250.6L774.8 254.4L771 258.2L767.2 254.4Z" fill="#ff0000"/>
<path d="M771 253.11L774.8 256.91L771 260.71L767.2 256.91Z" fill="#ff0000"/>
<path d="M771 255.62L774.8 259.42L771 263.22L767.2 259.42Z" fill="#ff0000"/>
<path d="M771 258.14L774.8 261.94L771 265.74L767.2 261.94Z" fill="#ff0000"/>
<path d="M771 260.65L774.8 264.45L771 268.25L767.2 264.45Z" fill="#ff0000"/>
<path d="M771 263.16L774.8 266.96L771 270.76L767.2 266.96Z" fill="#ff0000"/>
<path d="M771 265.67L774.8 269.47L771 273.27L767.2 269.47Z" fill="#ff0000"/>
<path d="M771 268.19L774.8 271.99L771 275.79L767.2 271.99Z" fill="#ff0000"/>
<path d="M771 270.7L774.8 274.5L771 278.3L767.2 274.5Z" fill="#ff0000"/>
<path d="M764 199.1L767.8 202.9L764 206.7L760.2 202.9Z" fill="#ff0000"/>
<path d="M778 199.1L781.8 202.9L778 206.7L774.2 202.9Z" fill="#ff0000"/>
<path d="M764 274.5L767.8 278.3L764 282.1L760.2 278.3Z" fill="#ff0000"/>
<path d="M778 274.5L781.8 278.3L778 282.1L774.2 278.3Z" fill="#ff0000"/>
<path d="M771 274.5L774.8 278.3L771 282.1L767.2 278.3Z" fill="#ff0000"/>
<line x1="803.2" y1="125.1" x2="803.2" y2="191.4" stroke="#5a5aff" stroke-width="1.2" />
<line x1="803.2" y1="242.2" x2="803.2" y2="274.5" stroke="#5a5aff" stroke-width="1.2" />
<rect x="787.9" y="191.4" width="30.6" height="50.8" fill="none" stroke="#5a5aff" stroke-width="1.2"/>
<line x1="787.9" y1="222.2" x2="818.5" y2="222.2" stroke="#5a5aff" stroke-width="1.2" />
<path d="M803.2 88.6L807 92.4L803.2 96.2L799.4 92.4Z" fill="#0000ff"/>
<path d="M803.2 121.3L807 125.1L803.2 128.9L799.4 125.1Z" fill="#0000ff"/>
<path d="M803.2 135.3L807 139.1L803.2 142.9L799.4 139.1Z" fill="#0000ff"/>
<path d="M803.2 165.7L807 169.5L803.2 173.3L799.4 169.5Z" fill="#0000ff"/>
<path d="M803.2 168.2L807 172L803.2 175.8L799.4 172Z" fill="#0000ff"/>
<path d="M803.2 170.2L807 174L803.2 177.8L799.4 174Z" fill="#0000ff"/>
<path d="M803.2 183.2L807 187L803.2 190.8L799.4 187Z" fill="#0000ff"/>
<path d="M803.2 186.2L807 190L803.2 193.8L799.4 190Z" fill="#0000ff"/>
<path d="M803.2 191.2L807 195L803.2 198.8L799.4 195Z" fill="#0000ff"/>
<path d="M799.2 216.2L803 220L799.2 223.8L795.4 220Z" fill="#0000ff"/>
<path d="M807.2 216.2L811 220L807.2 223.8L803.4 220Z" fill="#0000ff"/>
<path d="M803.2 212.2L807 216L803.2 219.8L799.4 216Z" fill="#0000ff"/>
<path d="M803.2 220.2L807 224L803.2 227.8L799.4 224Z" fill="#0000ff"/>
<path d="M803.2 225.2L807 229L803.2 232.8L799.4 229Z" fill="#0000ff"/>
<path d="M803.2 228.23L807 232.03L803.2 235.83L799.4 232.03Z" fill="#0000ff"/>
<path d="M803.2 231.27L807 235.07L803.2 238.87L799.4 235.07Z" fill="#0000ff"/>
<path d="M803.2 234.3L807 238.1L803.2 241.9L799.4 238.1Z" fill="#0000ff"/>
<path d="M803.2 237.33L807 241.13L803.2 244.93L799.4 241.13Z" fill="#0000ff"/>
<path d="M803.2 240.37L807 244.17L803.2 247.97L799.4 244.17Z" fill="#0000ff"/>
<path d="M803.2 243.4L807 247.2L803.2 251L799.4 247.2Z" fill="#0000ff"/>
<path d="M803.2 246.43L807 250.23L803.2 254.03L799.4 250.23Z" fill="#0000ff"/>
<path d="M803.2 249.47L807 253.27L803.2 257.07L799.4 253.27Z" fill="#0000ff"/>
<path d="M803.2 252.5L807 256.3L803.2 260.1L799.4 256.3Z" fill="#0000ff"/>
<path d="M803.2 255.53L807 259.33L803.2 263.13L799.4 259.33Z" fill="#0000ff"/>
<path d="M803.2 258.57L807 262.37L803.2 266.17L799.4 262.37Z" fill="#0000ff"/>
<path d="M803.2 261.6L807 265.4L803.2 269.2L799.4 265.4Z" fill="#0000ff"/>
<path d="M803.2 264.63L807 268.43L803.2 272.23L799.4 268.43Z" fill="#0000ff"/>
<path d="M803.2 267.67L807 271.47L803.2 275.27L799.4 271.47Z" fill="#0000ff"/>
<path d="M803.2 270.7L807 274.5L803.2 278.3L799.4 274.5Z" fill="#0000ff"/>
<rect x="851.1" y="271.6" width="31" height="5.8" fill="none" stroke="#ff5555" stroke-width="1.2"/>
<line x1="851.1" y1="275.3" x2="882.1" y2="275.3" stroke="#ff5555" stroke-width="1.2" />
<path d="M866.6 111.1L870.4 114.9L866.6 118.7L862.8 114.9Z" fill="#ff0000"/>
<path d="M866.6 192L870.4 195.8L866.6 199.6L862.8 195.8Z" fill="#ff0000"/>
<path d="M866.6 238.6L870.4 242.4L866.6 246.2L862.8 242.4Z" fill="#ff0000"/>
<path d="M866.6 245.2L870.4 249L866.6 252.8L862.8 249Z" fill="#ff0000"/>
<path d="M866.6 247.63L870.4 251.43L866.6 255.23L862.8 251.43Z" fill="#ff0000"/>
<path d="M866.6 250.06L870.4 253.86L866.6 257.66L862.8 253.86Z" fill="#ff0000"/>
<path d="M866.6 252.49L870.4 256.29L866.6 260.09L862.8 256.29Z" fill="#ff0000"/>
<path d="M866.6 254.91L870.4 258.71L866.6 262.51L862.8 258.71Z" fill="#ff0000"/>
<path d="M866.6 257.34L870.4 261.14L866.6 264.94L862.8 261.14Z" fill="#ff0000"/>
<path d="M866.6 259.77L870.4 263.57L866.6 267.37L862.8 263.57Z" fill="#ff0000"/>
<path d="M866.6 262.2L870.4 266L866.6 269.8L862.8 266Z" fill="#ff0000"/>
<path d="M859.8 266.6L863.6 270.4L859.8 274.2L856 270.4Z" fill="#ff0000"/>
<path d="M866.6 266.6L870.4 270.4L866.6 274.2L862.8 270.4Z" fill="#ff0000"/>
<path d="M873.4 266.6L877.2 270.4L873.4 274.2L869.6 270.4Z" fill="#ff0000"/>
<path d="M853 269.6L856.8 273.4L853 277.2L849.2 273.4Z" fill="#ff0000"/>
<path d="M859.8 269.6L863.6 273.4L859.8 277.2L856 273.4Z" fill="#ff0000"/>
<path d="M866.6 269.6L870.4 273.4L866.6 277.2L862.8 273.4Z" fill="#ff0000"/>
<path d="M873.4 269.6L877.2 273.4L873.4 277.2L869.6 273.4Z" fill="#ff0000"/>
<path d="M880.2 269.6L884 273.4L880.2 277.2L876.4 273.4Z" fill="#ff0000"/>
<path d="M849 274.5L852.8 278.3L849 282.1L845.2 278.3Z" fill="#ff0000"/>
<path d="M855.9 274.5L859.7 278.3L855.9 282.1L852.1 278.3Z" fill="#ff0000"/>
<path d="M862.7 274.5L866.5 278.3L862.7 282.1L858.9 278.3Z" fill="#ff0000"/>
<path d="M866.6 274.5L870.4 278.3L866.6 282.1L862.8 278.3Z" fill="#ff0000"/>
<path d="M870.5 274.5L874.3 278.3L870.5 282.1L866.7 278.3Z" fill="#ff0000"/>
<path d="M877.3 274.5L881.1 278.3L877.3 282.1L873.5 278.3Z" fill="#ff0000"/>
<path d="M883.9 274.5L887.7 278.3L883.9 282.1L880.1 278.3Z" fill="#ff0000"/>
<rect x="882.7" y="263.7" width="30.6" height="13.7" fill="none" stroke="#5a5aff" stroke-width="1.2"/>
<line x1="882.7" y1="273" x2="913.3" y2="273" stroke="#5a5aff" stroke-width="1.2" />
<path d="M898 137.6L901.8 141.4L898 145.2L894.2 141.4Z" fill="#0000ff"/>
<path d="M898 246.2L901.8 250L898 253.8L894.2 250Z" fill="#0000ff"/>
<path d="M898 248.64L901.8 252.44L898 256.24L894.2 252.44Z" fill="#0000ff"/>
<path d="M898 251.09L901.8 254.89L898 258.69L894.2 254.89Z" fill="#0000ff"/>
<path d="M898 253.53L901.8 257.33L898 261.13L894.2 257.33Z" fill="#0000ff"/>
<path d="M898 255.98L901.8 259.78L898 263.58L894.2 259.78Z" fill="#0000ff"/>
<path d="M898 258.42L901.8 262.22L898 266.02L894.2 262.22Z" fill="#0000ff"/>
<path d="M898 260.87L901.8 264.67L898 268.47L894.2 264.67Z" fill="#0000ff"/>
<path d="M898 263.31L901.8 267.11L898 270.91L894.2 267.11Z" fill="#0000ff"/>
<path d="M898 265.76L901.8 269.56L898 273.36L894.2 269.56Z" fill="#0000ff"/>
<path d="M898 268.2L901.8 272L898 275.8L894.2 272Z" fill="#0000ff"/>
<path d="M894 271.2L897.8 275L894 278.8L890.2 275Z" fill="#0000ff"/>
<path d="M902 271.2L905.8 275L902 278.8L898.2 275Z" fill="#0000ff"/>
<path d="M893.5 274.2L897.3 278L893.5 281.8L889.7 278Z" fill="#0000ff"/>
<path d="M898 274.2L901.8 278L898 281.8L894.2 278Z" fill="#0000ff"/>
<path d="M902.5 274.2L906.3 278L902.5 281.8L898.7 278Z" fill="#0000ff"/>
<rect x="946.6" y="266.6" width="30.6" height="10.4" fill="none" stroke="#ff5555" stroke-width="1.2"/>
<line x1="946.6" y1="271.6" x2="977.2" y2="271.6" stroke="#ff5555" stroke-width="1.2" />
<path d="M961.9 229.5L965.7 233.3L961.9 237.1L958.1 233.3Z" fill="#ff0000"/>
<path d="M956.6 241.6L960.4 245.4L956.6 249.2L952.8 245.4Z" fill="#ff0000"/>
<path d="M961.9 241.6L965.7 245.4L961.9 249.2L958.1 245.4Z" fill="#ff0000"/>
<path d="M967.2 241.6L971 245.4L967.2 249.2L963.4 245.4Z" fill="#ff0000"/>
<path d="M961.9 245.2L965.7 249L961.9 252.8L958.1 249Z" fill="#ff0000"/>
<path d="M961.9 248.2L965.7 252L961.9 255.8L958.1 252Z" fill="#ff0000"/>
<path d="M961.9 251.2L965.7 255L961.9 258.8L958.1 255Z" fill="#ff0000"/>
<path d="M961.9 254.2L965.7 258L961.9 261.8L958.1 258Z" fill="#ff0000"/>
<path d="M961.9 256.87L965.7 260.67L961.9 264.47L958.1 260.67Z" fill="#ff0000"/>
<path d="M961.9 259.53L965.7 263.33L961.9 267.13L958.1 263.33Z" fill="#ff0000"/>
<path d="M961.9 262.2L965.7 266L961.9 269.8L958.1 266Z" fill="#ff0000"/>
<path d="M957.4 260.5L961.2 264.3L957.4 268.1L953.6 264.3Z" fill="#ff0000"/>
<path d="M966.4 260.5L970.2 264.3L966.4 268.1L962.6 264.3Z" fill="#ff0000"/>
<path d="M955.9 264.2L959.7 268L955.9 271.8L952.1 268Z" fill="#ff0000"/>
<path d="M967.9 264.2L971.7 268L967.9 271.8L964.1 268Z" fill="#ff0000"/>
<path d="M951.2 266.6L955 270.4L951.2 274.2L947.4 270.4Z" fill="#ff0000"/>
<path d="M956.6 266.6L960.4 270.4L956.6 274.2L952.8 270.4Z" fill="#ff0000"/>
<path d="M961.9 266.6L965.7 270.4L961.9 274.2L958.1 270.4Z" fill="#ff0000"/>
<path d="M967.2 266.6L971 270.4L967.2 274.2L963.4 270.4Z" fill="#ff0000"/>
<path d="M972.6 266.6L976.4 270.4L972.6 274.2L968.8 270.4Z" fill="#ff0000"/>
<path d="M953.9 270.2L957.7 274L953.9 277.8L950.1 274Z" fill="#ff0000"/>
<path d="M969.9 270.2L973.7 274L969.9 277.8L966.1 274Z" fill="#ff0000"/>
<path d="M949 274.2L952.8 278L949 281.8L945.2 278Z" fill="#ff0000"/>
<path d="M953.3 274.2L957.1 278L953.3 281.8L949.5 278Z" fill="#ff0000"/>
<path d="M957.6 274.2L961.4 278L957.6 281.8L953.8 278Z" fill="#ff0000"/>
<path d="M961.9 274.2L965.7 278L961.9 281.8L958.1 278Z" fill="#ff0000"/>
<path d="M966.2 274.2L970 278L966.2 281.8L962.4 278Z" fill="#ff0000"/>
<path d="M970.5 274.2L974.3 278L970.5 281.8L966.7 278Z" fill="#ff0000"/>
<path d="M974.6 274.2L978.4 278L974.6 281.8L970.8 278Z" fill="#ff0000"/>
<line x1="993.9" y1="233.7" x2="993.9" y2="253.5" stroke="#5a5aff" stroke-width="1.2" />
<line x1="993.9" y1="276.5" x2="993.9" y2="277.4" stroke="#5a5aff" stroke-width="1.2" />
<rect x="978.3" y="253.5" width="31.2" height="23" fill="none" stroke="#5a5aff" stroke-width="1.2"/>
<line x1="978.3" y1="264.9" x2="1009.5" y2="264.9" stroke="#5a5aff" stroke-width="1.2" />
<path d="M993.9 197.2L997.7 201L993.9 204.8L990.1 201Z" fill="#0000ff"/>
<path d="M993.9 213L997.7 216.8L993.9 220.6L990.1 216.8Z" fill="#0000ff"/>
<path d="M993.9 229.9L997.7 233.7L993.9 237.5L990.1 233.7Z" fill="#0000ff"/>
<path d="M993.9 232.5L997.7 236.3L993.9 240.1L990.1 236.3Z" fill="#0000ff"/>
<path d="M993.9 245.4L997.7 249.2L993.9 253L990.1 249.2Z" fill="#0000ff"/>
<path d="M993.9 248.02L997.7 251.82L993.9 255.62L990.1 251.82Z" fill="#0000ff"/>
<path d="M993.9 250.64L997.7 254.44L993.9 258.24L990.1 254.44Z" fill="#0000ff"/>
<path d="M993.9 253.25L997.7 257.05L993.9 260.85L990.1 257.05Z" fill="#0000ff"/>
<path d="M993.9 255.87L997.7 259.67L993.9 263.47L990.1 259.67Z" fill="#0000ff"/>
<path d="M993.9 258.49L997.7 262.29L993.9 266.09L990.1 262.29Z" fill="#0000ff"/>
<path d="M993.9 261.11L997.7 264.91L993.9 268.71L990.1 264.91Z" fill="#0000ff"/>
<path d="M993.9 263.73L997.7 267.53L993.9 271.33L990.1 267.53Z" fill="#0000ff"/>
<path d="M993.9 266.35L997.7 270.15L993.9 273.95L990.1 270.15Z" fill="#0000ff"/>
<path d="M993.9 268.96L997.7 272.76L993.9 276.56L990.1 272.76Z" fill="#0000ff"/>
<path d="M993.9 271.58L997.7 275.38L993.9 279.18L990.1 275.38Z" fill="#0000ff"/>
<path d="M993.9 274.2L997.7 278L993.9 281.8L990.1 278Z" fill="#0000ff"/>
<line x1="938.9" y1="88.1" x2="1012.6" y2="88.1" stroke="#222" stroke-width="1.9" />
<text x="972.04" y="92.73" text-anchor="start" font-size="27" fill="#000" xml:space="preserve">*</text>
<text x="662.6" y="361" text-anchor="start" font-size="31.6" fill="#000" xml:space="preserve">Fr.II</text>
<text x="757.2" y="361" text-anchor="start" font-size="31.6" fill="#000" xml:space="preserve">Fr.III</text>
<text x="854" y="361" text-anchor="start" font-size="31.6" fill="#000" xml:space="preserve">Fr.IV</text>
<text x="956.8" y="361" text-anchor="start" font-size="31.6" fill="#000" xml:space="preserve">Fr.V</text>
<rect x="646.9" y="368.5" width="367.7" height="3" fill="#000" stroke="none" stroke-width="1"/>
<text x="751.5" y="401.7" text-anchor="start" font-size="31.5" fill="#000" xml:space="preserve">CD4 T cells</text>
<path d="M1037.9 262.2L1047.9 272.2L1037.9 282.2L1027.9 272.2Z" fill="#ff0000"/>
<path d="M1037.9 290L1047.9 300L1037.9 310L1027.9 300Z" fill="#0000ff"/>
<text x="1050.1" y="281.2" text-anchor="start" font-size="21.2" fill="#000" xml:space="preserve">Low Grade</text>
<text x="1050.1" y="306.5" text-anchor="start" font-size="21.2" fill="#000" xml:space="preserve">High Grade</text>
<text transform="translate(12.95,434.21) scale(1.0440,1)" font-size="41" fill="#000">(c)</text>
<rect x="79" y="468" width="359.8" height="260.4" fill="#fafafa" stroke="none" stroke-width="1"/>
<rect x="98" y="624.44" width="56.5" height="104.36" fill="#1f1f1f" stroke="#1a1a1a" stroke-width="1"/>
<rect x="98" y="572.26" width="56.5" height="52.18" fill="url(#pdiag)" stroke="#1a1a1a" stroke-width="1"/>
<rect x="98" y="520.08" width="56.5" height="52.18" fill="url(#phoriz)" stroke="#1a1a1a" stroke-width="1"/>
<rect x="98" y="467.9" width="56.5" height="52.18" fill="url(#pcross)" stroke="#1a1a1a" stroke-width="1"/>
<rect x="191.5" y="633.57" width="56" height="95.23" fill="#1f1f1f" stroke="#1a1a1a" stroke-width="1"/>
<rect x="191.5" y="584" width="56" height="49.57" fill="url(#pdiag)" stroke="#1a1a1a" stroke-width="1"/>
<rect x="191.5" y="530.52" width="56" height="53.48" fill="url(#phoriz)" stroke="#1a1a1a" stroke-width="1"/>
<rect x="191.5" y="467.9" width="56" height="62.62" fill="url(#pcross)" stroke="#1a1a1a" stroke-width="1"/>
<rect x="284.7" y="663.57" width="56.5" height="65.23" fill="#1f1f1f" stroke="#1a1a1a" stroke-width="1"/>
<rect x="284.7" y="624.44" width="56.5" height="39.13" fill="url(#pdiag)" stroke="#1a1a1a" stroke-width="1"/>
<rect x="284.7" y="585.3" width="56.5" height="39.13" fill="url(#phoriz)" stroke="#1a1a1a" stroke-width="1"/>
<rect x="284.7" y="467.9" width="56.5" height="117.4" fill="url(#pcross)" stroke="#1a1a1a" stroke-width="1"/>
<rect x="378" y="700.1" width="56.8" height="28.7" fill="url(#pdiag)" stroke="#1a1a1a" stroke-width="1"/>
<rect x="378" y="671.4" width="56.8" height="28.7" fill="url(#phoriz)" stroke="#1a1a1a" stroke-width="1"/>
<rect x="378" y="467.9" width="56.8" height="203.5" fill="url(#pcross)" stroke="#1a1a1a" stroke-width="1"/>
<line x1="154.5" y1="624.44" x2="191.5" y2="633.57" stroke="#222" stroke-width="0.9" />
<line x1="154.5" y1="572.26" x2="191.5" y2="584" stroke="#222" stroke-width="0.9" />
<line x1="154.5" y1="520.08" x2="191.5" y2="530.52" stroke="#222" stroke-width="0.9" />
<line x1="154.5" y1="467.9" x2="191.5" y2="467.9" stroke="#222" stroke-width="0.9" />
<line x1="247.5" y1="633.57" x2="284.7" y2="663.57" stroke="#222" stroke-width="0.9" />
<line x1="247.5" y1="584" x2="284.7" y2="624.44" stroke="#222" stroke-width="0.9" />
<line x1="247.5" y1="530.52" x2="284.7" y2="585.3" stroke="#222" stroke-width="0.9" />
<line x1="247.5" y1="467.9" x2="284.7" y2="467.9" stroke="#222" stroke-width="0.9" />
<line x1="341.2" y1="663.57" x2="378" y2="728.8" stroke="#222" stroke-width="0.9" />
<line x1="341.2" y1="624.44" x2="378" y2="700.1" stroke="#222" stroke-width="0.9" />
<line x1="341.2" y1="585.3" x2="378" y2="671.4" stroke="#222" stroke-width="0.9" />
<line x1="341.2" y1="467.9" x2="378" y2="467.9" stroke="#222" stroke-width="0.9" />
<line x1="79.3" y1="467.5" x2="79.3" y2="728.8" stroke="#555555" stroke-width="1.5" />
<line x1="79.3" y1="728.8" x2="438.8" y2="728.8" stroke="#555555" stroke-width="1.5" />
<line x1="73.5" y1="728.8" x2="79.3" y2="728.8" stroke="#555555" stroke-width="1.4" />
<line x1="75.3" y1="702.71" x2="79.3" y2="702.71" stroke="#555555" stroke-width="1.4" />
<line x1="73.5" y1="676.62" x2="79.3" y2="676.62" stroke="#555555" stroke-width="1.4" />
<line x1="75.3" y1="650.53" x2="79.3" y2="650.53" stroke="#555555" stroke-width="1.4" />
<line x1="73.5" y1="624.44" x2="79.3" y2="624.44" stroke="#555555" stroke-width="1.4" />
<line x1="75.3" y1="598.35" x2="79.3" y2="598.35" stroke="#555555" stroke-width="1.4" />
<line x1="73.5" y1="572.26" x2="79.3" y2="572.26" stroke="#555555" stroke-width="1.4" />
<line x1="75.3" y1="546.17" x2="79.3" y2="546.17" stroke="#555555" stroke-width="1.4" />
<line x1="73.5" y1="520.08" x2="79.3" y2="520.08" stroke="#555555" stroke-width="1.4" />
<line x1="75.3" y1="493.99" x2="79.3" y2="493.99" stroke="#555555" stroke-width="1.4" />
<line x1="73.5" y1="467.9" x2="79.3" y2="467.9" stroke="#555555" stroke-width="1.4" />
<text x="25.72" y="480.24" text-anchor="start" font-size="26.5" fill="#000" xml:space="preserve">100</text>
<text x="38.86" y="527.14" text-anchor="start" font-size="26.5" fill="#000" xml:space="preserve">80</text>
<text x="38.86" y="579.24" text-anchor="start" font-size="26.5" fill="#000" xml:space="preserve">60</text>
<text x="38.86" y="630.44" text-anchor="start" font-size="26.5" fill="#000" xml:space="preserve">40</text>
<text x="38.86" y="682.24" text-anchor="start" font-size="26.5" fill="#000" xml:space="preserve">20</text>
<text x="53.6" y="734.44" text-anchor="start" font-size="26.5" fill="#000" xml:space="preserve">0</text>
<line x1="126.25" y1="728.4" x2="126.25" y2="733.5" stroke="#555555" stroke-width="1.4" />
<line x1="219.5" y1="728.4" x2="219.5" y2="733.5" stroke="#555555" stroke-width="1.4" />
<line x1="313" y1="728.4" x2="313" y2="733.5" stroke="#555555" stroke-width="1.4" />
<line x1="406.4" y1="728.4" x2="406.4" y2="733.5" stroke="#555555" stroke-width="1.4" />
<line x1="172.9" y1="728.4" x2="172.9" y2="731" stroke="#555555" stroke-width="1.2" />
<line x1="266.3" y1="728.4" x2="266.3" y2="731" stroke="#555555" stroke-width="1.2" />
<line x1="359.7" y1="728.4" x2="359.7" y2="731" stroke="#555555" stroke-width="1.2" />
<line x1="438.8" y1="728.4" x2="438.8" y2="731" stroke="#555555" stroke-width="1.2" />
<text transform="translate(24.2,781.51) rotate(-90)" font-size="31.04" fill="#000">% in each tumour grade</text>
<text x="114.5" y="761.2" text-anchor="middle" font-size="30" fill="#000" xml:space="preserve">G1</text>
<text x="114.5" y="784.6" text-anchor="middle" font-size="30" fill="#000" xml:space="preserve">(n=5)</text>
<text x="211.4" y="761.2" text-anchor="middle" font-size="30" fill="#000" xml:space="preserve">G2</text>
<text x="211.4" y="784.6" text-anchor="middle" font-size="30" fill="#000" xml:space="preserve">(n=63)</text>
<text x="314.8" y="761.2" text-anchor="middle" font-size="30" fill="#000" xml:space="preserve">G3</text>
<text x="314.8" y="784.6" text-anchor="middle" font-size="30" fill="#000" xml:space="preserve">(n=20)</text>
<text x="416.6" y="761.2" text-anchor="middle" font-size="30" fill="#000" xml:space="preserve">G4</text>
<text x="416.6" y="784.6" text-anchor="middle" font-size="30" fill="#000" xml:space="preserve">(n=9)</text>
<rect x="442.5" y="494.5" width="62.6" height="44.1" fill="url(#lcross)" stroke="#000" stroke-width="2"/>
<rect x="442.5" y="543.6" width="62.6" height="43.8" fill="url(#lhoriz)" stroke="#000" stroke-width="2"/>
<rect x="442.5" y="592.3" width="62.6" height="42.7" fill="url(#ldiag)" stroke="#000" stroke-width="2"/>
<rect x="442.5" y="641" width="62.6" height="42.8" fill="#202020" stroke="#000" stroke-width="2"/>
<text x="508" y="501.9" text-anchor="start" font-size="21.2" fill="#000" xml:space="preserve">CD4Fr.V</text>
<text x="600.3" y="501.9" text-anchor="start" font-size="21.2" fill="#000" xml:space="preserve">High</text>
<text x="508" y="527.7" text-anchor="start" font-size="21.2" fill="#000" xml:space="preserve">CD8Fr.IV</text>
<text x="600.3" y="527.7" text-anchor="start" font-size="21.2" fill="#000" xml:space="preserve">High</text>
<text x="508" y="553.6" text-anchor="start" font-size="21.2" fill="#000" xml:space="preserve">CD4Fr.V</text>
<text x="600.3" y="553.6" text-anchor="start" font-size="21.2" fill="#000" xml:space="preserve">High</text>
<text x="508" y="579.4" text-anchor="start" font-size="21.2" fill="#000" xml:space="preserve">CD8Fr.IV</text>
<text x="600.3" y="579.4" text-anchor="start" font-size="21.2" fill="#000" xml:space="preserve">Low</text>
<text x="508" y="605.2" text-anchor="start" font-size="21.2" fill="#000" xml:space="preserve">CD4Fr.V</text>
<text x="600.3" y="605.2" text-anchor="start" font-size="21.2" fill="#000" xml:space="preserve">Low</text>
<text x="508" y="630.5" text-anchor="start" font-size="21.2" fill="#000" xml:space="preserve">CD8Fr.IV</text>
<text x="600.3" y="630.5" text-anchor="start" font-size="21.2" fill="#000" xml:space="preserve">High</text>
<text x="508" y="656.3" text-anchor="start" font-size="21.2" fill="#000" xml:space="preserve">CD4Fr.V</text>
<text x="600.3" y="656.3" text-anchor="start" font-size="21.2" fill="#000" xml:space="preserve">Low</text>
<text x="508" y="681.8" text-anchor="start" font-size="21.2" fill="#000" xml:space="preserve">CD8Fr.IV</text>
<text x="600.3" y="681.8" text-anchor="start" font-size="21.2" fill="#000" xml:space="preserve">Low</text>
<text transform="translate(628.47,449.61) scale(1.0350,1)" font-size="41" fill="#000">(d)</text>
<rect x="760" y="470.3" width="65" height="63.22" fill="url(#dhatch)" stroke="#333" stroke-width="0.8"/>
<rect x="760" y="533.51" width="65" height="205.78" fill="#414141" stroke="#333" stroke-width="0.8"/>
<rect x="868.2" y="470.3" width="65.1" height="148.22" fill="url(#dhatch)" stroke="#333" stroke-width="0.8"/>
<rect x="868.2" y="618.52" width="65.1" height="120.78" fill="#414141" stroke="#333" stroke-width="0.8"/>
<line x1="825" y1="470.3" x2="868.2" y2="470.3" stroke="#555" stroke-width="0.8" />
<line x1="825" y1="533.51" x2="868.2" y2="618.52" stroke="#555" stroke-width="0.8" />
<line x1="738.4" y1="470.3" x2="738.4" y2="740.3" stroke="#7a7a7a" stroke-width="1.1" />
<line x1="735.4" y1="739.3" x2="954.4" y2="739.3" stroke="#444" stroke-width="1.3" />
<line x1="734.6" y1="739.3" x2="738.4" y2="739.3" stroke="#444" stroke-width="1.2" />
<line x1="735.6" y1="712.4" x2="738.4" y2="712.4" stroke="#444" stroke-width="1.2" />
<line x1="734.6" y1="685.5" x2="738.4" y2="685.5" stroke="#444" stroke-width="1.2" />
<line x1="735.6" y1="658.6" x2="738.4" y2="658.6" stroke="#444" stroke-width="1.2" />
<line x1="734.6" y1="631.7" x2="738.4" y2="631.7" stroke="#444" stroke-width="1.2" />
<line x1="735.6" y1="604.8" x2="738.4" y2="604.8" stroke="#444" stroke-width="1.2" />
<line x1="734.6" y1="577.9" x2="738.4" y2="577.9" stroke="#444" stroke-width="1.2" />
<line x1="735.6" y1="551" x2="738.4" y2="551" stroke="#444" stroke-width="1.2" />
<line x1="734.6" y1="524.1" x2="738.4" y2="524.1" stroke="#444" stroke-width="1.2" />
<line x1="735.6" y1="497.2" x2="738.4" y2="497.2" stroke="#444" stroke-width="1.2" />
<line x1="734.6" y1="470.3" x2="738.4" y2="470.3" stroke="#444" stroke-width="1.2" />
<text x="688.72" y="480.54" text-anchor="start" font-size="26.5" fill="#000" xml:space="preserve">100</text>
<text x="701.66" y="532.34" text-anchor="start" font-size="26.5" fill="#000" xml:space="preserve">80</text>
<text x="701.66" y="584.14" text-anchor="start" font-size="26.5" fill="#000" xml:space="preserve">60</text>
<text x="701.56" y="635.54" text-anchor="start" font-size="26.5" fill="#000" xml:space="preserve">40</text>
<text x="701.56" y="692.34" text-anchor="start" font-size="26.5" fill="#000" xml:space="preserve">20</text>
<text x="716.3" y="749.44" text-anchor="start" font-size="26.5" fill="#000" xml:space="preserve">0</text>
<line x1="792.7" y1="739.3" x2="792.7" y2="743.8" stroke="#555555" stroke-width="1.3" />
<line x1="900.7" y1="739.3" x2="900.7" y2="743.8" stroke="#555555" stroke-width="1.3" />
<line x1="846.7" y1="739.3" x2="846.7" y2="742.3" stroke="#555555" stroke-width="1.2" />
<line x1="954.4" y1="739.3" x2="954.4" y2="742.3" stroke="#555555" stroke-width="1.2" />
<line x1="809.7" y1="455.7" x2="883" y2="455.7" stroke="#333" stroke-width="1.9" />
<text x="830.93" y="449.37" text-anchor="start" font-size="25.5" fill="#000" xml:space="preserve">*</text>
<text x="843.23" y="449.37" text-anchor="start" font-size="25.5" fill="#000" xml:space="preserve">*</text>
<text x="855.53" y="449.37" text-anchor="start" font-size="25.5" fill="#000" xml:space="preserve">*</text>
<text transform="translate(682,791.7) rotate(-90)" font-size="31" fill="#000">% in each tumour grade</text>
<text x="792.7" y="765" text-anchor="middle" font-size="30" fill="#000" xml:space="preserve">Low</text>
<text x="792.7" y="795" text-anchor="middle" font-size="30" fill="#000" xml:space="preserve">Grade</text>
<text x="792.7" y="824.5" text-anchor="middle" font-size="30" fill="#000" xml:space="preserve">(n=68)</text>
<text x="906.9" y="765" text-anchor="middle" font-size="30" fill="#000" xml:space="preserve">High</text>
<text x="906.9" y="795" text-anchor="middle" font-size="30" fill="#000" xml:space="preserve">Grade</text>
<text x="906.9" y="824.5" text-anchor="middle" font-size="30" fill="#000" xml:space="preserve">(n=29)</text>
<rect x="950.7" y="540.5" width="57.8" height="42" fill="url(#lhatch)" stroke="#000" stroke-width="1.8"/>
<rect x="950.7" y="588" width="57.8" height="41.6" fill="#424242" stroke="#000" stroke-width="1.8"/>
<text x="1011.16" y="559" text-anchor="start" font-size="20.5" fill="#000" xml:space="preserve">CD4 Fr.V</text>
<text x="1107.82" y="559" text-anchor="start" font-size="20.5" fill="#000" xml:space="preserve">High</text>
<text x="1011.16" y="585.1" text-anchor="start" font-size="20.5" fill="#000" xml:space="preserve">CD8 Fr.IV</text>
<text x="1107.82" y="585.1" text-anchor="start" font-size="20.5" fill="#000" xml:space="preserve">High</text>
<text x="1016.33" y="615.9" text-anchor="start" font-size="20.5" fill="#000" xml:space="preserve">Others</text>
<text transform="translate(7.06,838.51) scale(1.0372,1)" font-size="41" fill="#000">(e)</text>
<rect x="74" y="868" width="382.9" height="239.2" fill="none" stroke="#3c3c3c" stroke-width="1.35"/>
<line x1="71" y1="1107.6" x2="74" y2="1107.6" stroke="#3c3c3c" stroke-width="1.35" />
<line x1="68" y1="1083.6" x2="74" y2="1083.6" stroke="#3c3c3c" stroke-width="1.35" />
<line x1="71" y1="1059.6" x2="74" y2="1059.6" stroke="#3c3c3c" stroke-width="1.35" />
<line x1="68" y1="1035.6" x2="74" y2="1035.6" stroke="#3c3c3c" stroke-width="1.35" />
<line x1="71" y1="1011.6" x2="74" y2="1011.6" stroke="#3c3c3c" stroke-width="1.35" />
<line x1="68" y1="987.6" x2="74" y2="987.6" stroke="#3c3c3c" stroke-width="1.35" />
<line x1="71" y1="963.6" x2="74" y2="963.6" stroke="#3c3c3c" stroke-width="1.35" />
<line x1="68" y1="939.6" x2="74" y2="939.6" stroke="#3c3c3c" stroke-width="1.35" />
<line x1="71" y1="915.6" x2="74" y2="915.6" stroke="#3c3c3c" stroke-width="1.35" />
<line x1="68" y1="891.6" x2="74" y2="891.6" stroke="#3c3c3c" stroke-width="1.35" />
<text x="37.93" y="872.4" text-anchor="start" font-size="31" fill="#000" xml:space="preserve">80</text>
<text x="32.33" y="992.2" text-anchor="start" font-size="31" fill="#000" xml:space="preserve">40</text>
<text x="51.37" y="1095.6" text-anchor="start" font-size="31" fill="#000" xml:space="preserve">0</text>
<text transform="translate(24.2,1112.88) rotate(-90)" font-size="30.9" fill="#000">% in CD8 T cells</text>
<text x="301.44" y="899.3" text-anchor="start" font-size="31.2" fill="#000" xml:space="preserve">Fr.II (CD8)</text>
<line x1="201" y1="911.4" x2="238.2" y2="911.4" stroke="#333" stroke-width="1.9" />
<text x="216.24" y="913.13" text-anchor="start" font-size="27" fill="#000" xml:space="preserve">*</text>
<line x1="105.4" y1="1003" x2="105.4" y2="1014" stroke="#ff5555" stroke-width="1.2" />
<line x1="105.4" y1="1034.3" x2="105.4" y2="1049.5" stroke="#ff5555" stroke-width="1.2" />
<rect x="92.3" y="1014" width="26.2" height="20.3" fill="none" stroke="#ff5555" stroke-width="1.2"/>
<line x1="92.3" y1="1026" x2="118.5" y2="1026" stroke="#ff5555" stroke-width="1.2" />
<path d="M105.4 970.7L109.1 974.4L105.4 978.1L101.7 974.4Z" fill="#ff0000"/>
<path d="M105.4 999.3L109.1 1003L105.4 1006.7L101.7 1003Z" fill="#ff0000"/>
<path d="M105.4 1010L109.1 1013.7L105.4 1017.4L101.7 1013.7Z" fill="#ff0000"/>
<path d="M105.4 1015.3L109.1 1019L105.4 1022.7L101.7 1019Z" fill="#ff0000"/>
<path d="M105.4 1020.3L109.1 1024L105.4 1027.7L101.7 1024Z" fill="#ff0000"/>
<path d="M105.4 1024.3L109.1 1028L105.4 1031.7L101.7 1028Z" fill="#ff0000"/>
<path d="M105.4 1027.3L109.1 1031L105.4 1034.7L101.7 1031Z" fill="#ff0000"/>
<path d="M105.4 1030.6L109.1 1034.3L105.4 1038L101.7 1034.3Z" fill="#ff0000"/>
<path d="M105.4 1037.7L109.1 1041.4L105.4 1045.1L101.7 1041.4Z" fill="#ff0000"/>
<path d="M105.4 1045.8L109.1 1049.5L105.4 1053.2L101.7 1049.5Z" fill="#ff0000"/>
<line x1="137.8" y1="905" x2="137.8" y2="952" stroke="#5a5aff" stroke-width="1.2" />
<line x1="137.8" y1="1054.8" x2="137.8" y2="1065" stroke="#5a5aff" stroke-width="1.2" />
<rect x="124.85" y="952" width="25.9" height="102.8" fill="none" stroke="#5a5aff" stroke-width="1.2"/>
<line x1="124.85" y1="1007" x2="150.75" y2="1007" stroke="#5a5aff" stroke-width="1.2" />
<rect x="136.3" y="997.3" width="3" height="3" fill="none" stroke="#5a5aff" stroke-width="0.8"/>
<path d="M137.8 901.3L141.5 905L137.8 908.7L134.1 905Z" fill="#0000ff"/>
<path d="M137.8 948.3L141.5 952L137.8 955.7L134.1 952Z" fill="#0000ff"/>
<path d="M137.8 975.6L141.5 979.3L137.8 983L134.1 979.3Z" fill="#0000ff"/>
<path d="M137.8 1003.3L141.5 1007L137.8 1010.7L134.1 1007Z" fill="#0000ff"/>
<path d="M137.8 1022.8L141.5 1026.5L137.8 1030.2L134.1 1026.5Z" fill="#0000ff"/>
<path d="M137.8 1051.1L141.5 1054.8L137.8 1058.5L134.1 1054.8Z" fill="#0000ff"/>
<path d="M137.8 1061.3L141.5 1065L137.8 1068.7L134.1 1065Z" fill="#0000ff"/>
<line x1="201.9" y1="991" x2="201.9" y2="1006.3" stroke="#ff5555" stroke-width="1.2" />
<line x1="201.9" y1="1022.6" x2="201.9" y2="1034.3" stroke="#ff5555" stroke-width="1.2" />
<rect x="188.6" y="1006.3" width="26.6" height="16.3" fill="none" stroke="#ff5555" stroke-width="1.2"/>
<line x1="188.6" y1="1012" x2="215.2" y2="1012" stroke="#ff5555" stroke-width="1.2" />
<path d="M201.9 976.3L205.6 980L201.9 983.7L198.2 980Z" fill="#ff0000"/>
<path d="M201.9 987.3L205.6 991L201.9 994.7L198.2 991Z" fill="#ff0000"/>
<path d="M201.9 1002.6L205.6 1006.3L201.9 1010L198.2 1006.3Z" fill="#ff0000"/>
<path d="M201.9 1006.3L205.6 1010L201.9 1013.7L198.2 1010Z" fill="#ff0000"/>
<path d="M201.9 1009.3L205.6 1013L201.9 1016.7L198.2 1013Z" fill="#ff0000"/>
<path d="M201.9 1012.3L205.6 1016L201.9 1019.7L198.2 1016Z" fill="#ff0000"/>
<path d="M201.9 1015.3L205.6 1019L201.9 1022.7L198.2 1019Z" fill="#ff0000"/>
<path d="M201.9 1018.9L205.6 1022.6L201.9 1026.3L198.2 1022.6Z" fill="#ff0000"/>
<path d="M201.9 1030.6L205.6 1034.3L201.9 1038L198.2 1034.3Z" fill="#ff0000"/>
<rect x="221.25" y="1027.2" width="25.5" height="9.5" fill="none" stroke="#5a5aff" stroke-width="1.2"/>
<line x1="221.25" y1="1031.4" x2="246.75" y2="1031.4" stroke="#5a5aff" stroke-width="1.2" />
<path d="M234 991.9L237.7 995.6L234 999.3L230.3 995.6Z" fill="#0000ff"/>
<path d="M234 1023.5L237.7 1027.2L234 1030.9L230.3 1027.2Z" fill="#0000ff"/>
<path d="M234 1027.7L237.7 1031.4L234 1035.1L230.3 1031.4Z" fill="#0000ff"/>
<path d="M234 1033L237.7 1036.7L234 1040.4L230.3 1036.7Z" fill="#0000ff"/>
<path d="M234 1049L237.7 1052.7L234 1056.4L230.3 1052.7Z" fill="#0000ff"/>
<line x1="297.9" y1="958.8" x2="297.9" y2="984" stroke="#ff5555" stroke-width="1.2" />
<line x1="297.9" y1="1006.6" x2="297.9" y2="1016.5" stroke="#ff5555" stroke-width="1.2" />
<rect x="284.95" y="984" width="25.9" height="22.6" fill="none" stroke="#ff5555" stroke-width="1.2"/>
<line x1="284.95" y1="995.3" x2="310.85" y2="995.3" stroke="#ff5555" stroke-width="1.2" />
<path d="M297.9 955.1L301.6 958.8L297.9 962.5L294.2 958.8Z" fill="#ff0000"/>
<path d="M297.9 965L301.6 968.7L297.9 972.4L294.2 968.7Z" fill="#ff0000"/>
<path d="M297.9 980.3L301.6 984L297.9 987.7L294.2 984Z" fill="#ff0000"/>
<path d="M297.9 986.3L301.6 990L297.9 993.7L294.2 990Z" fill="#ff0000"/>
<path d="M297.9 991.6L301.6 995.3L297.9 999L294.2 995.3Z" fill="#ff0000"/>
<path d="M297.9 997.3L301.6 1001L297.9 1004.7L294.2 1001Z" fill="#ff0000"/>
<path d="M297.9 1002.9L301.6 1006.6L297.9 1010.3L294.2 1006.6Z" fill="#ff0000"/>
<path d="M297.9 1012.8L301.6 1016.5L297.9 1020.2L294.2 1016.5Z" fill="#ff0000"/>
<line x1="329.7" y1="968" x2="329.7" y2="974" stroke="#5a5aff" stroke-width="1.2" />
<line x1="329.7" y1="1052" x2="329.7" y2="1075" stroke="#5a5aff" stroke-width="1.2" />
<rect x="317" y="974" width="25.4" height="78" fill="none" stroke="#5a5aff" stroke-width="1.2"/>
<line x1="317" y1="1010.2" x2="342.4" y2="1010.2" stroke="#5a5aff" stroke-width="1.2" />
<path d="M329.7 964.3L333.4 968L329.7 971.7L326 968Z" fill="#0000ff"/>
<path d="M329.7 970.3L333.4 974L329.7 977.7L326 974Z" fill="#0000ff"/>
<path d="M329.7 984.5L333.4 988.2L329.7 991.9L326 988.2Z" fill="#0000ff"/>
<path d="M329.7 1006.3L333.4 1010L329.7 1013.7L326 1010Z" fill="#0000ff"/>
<path d="M329.7 1012.8L333.4 1016.5L329.7 1020.2L326 1016.5Z" fill="#0000ff"/>
<path d="M329.7 1048.3L333.4 1052L329.7 1055.7L326 1052Z" fill="#0000ff"/>
<path d="M329.7 1071.3L333.4 1075L329.7 1078.7L326 1075Z" fill="#0000ff"/>
<line x1="393.6" y1="1052" x2="393.6" y2="1061.6" stroke="#ff5555" stroke-width="1.2" />
<line x1="393.6" y1="1072.5" x2="393.6" y2="1075.7" stroke="#ff5555" stroke-width="1.2" />
<rect x="380.65" y="1061.6" width="25.9" height="10.9" fill="none" stroke="#ff5555" stroke-width="1.2"/>
<line x1="380.65" y1="1066" x2="406.55" y2="1066" stroke="#ff5555" stroke-width="1.2" />
<path d="M393.6 1048.3L397.3 1052L393.6 1055.7L389.9 1052Z" fill="#ff0000"/>
<path d="M393.6 1057.9L397.3 1061.6L393.6 1065.3L389.9 1061.6Z" fill="#ff0000"/>
<path d="M393.6 1062.3L397.3 1066L393.6 1069.7L389.9 1066Z" fill="#ff0000"/>
<path d="M393.6 1066.8L397.3 1070.5L393.6 1074.2L389.9 1070.5Z" fill="#ff0000"/>
<path d="M393.6 1072L397.3 1075.7L393.6 1079.4L389.9 1075.7Z" fill="#ff0000"/>
<line x1="425.3" y1="1011.6" x2="425.3" y2="1020" stroke="#5a5aff" stroke-width="1.2" />
<line x1="425.3" y1="1068.6" x2="425.3" y2="1077.5" stroke="#5a5aff" stroke-width="1.2" />
<rect x="412.55" y="1020" width="25.5" height="48.6" fill="none" stroke="#5a5aff" stroke-width="1.2"/>
<line x1="412.55" y1="1065" x2="438.05" y2="1065" stroke="#5a5aff" stroke-width="1.2" />
<rect x="423.8" y="1052.3" width="3" height="3" fill="none" stroke="#5a5aff" stroke-width="0.8"/>
<path d="M425.3 1007.9L429 1011.6L425.3 1015.3L421.6 1011.6Z" fill="#0000ff"/>
<path d="M425.3 1016.3L429 1020L425.3 1023.7L421.6 1020Z" fill="#0000ff"/>
<path d="M425.3 1058.9L429 1062.6L425.3 1066.3L421.6 1062.6Z" fill="#0000ff"/>
<path d="M425.3 1062.3L429 1066L425.3 1069.7L421.6 1066Z" fill="#0000ff"/>
<path d="M425.3 1073.8L429 1077.5L425.3 1081.2L421.6 1077.5Z" fill="#0000ff"/>
<text x="82.58" y="1133.3" text-anchor="start" font-size="26" fill="#000" xml:space="preserve">Triple</text>
<text x="63" y="1163.5" text-anchor="start" font-size="26" fill="#000" xml:space="preserve">Negative</text>
<text x="181.75" y="1133.3" text-anchor="start" font-size="26" fill="#000" xml:space="preserve">Single</text>
<text x="171.89" y="1163.5" text-anchor="start" font-size="26" fill="#000" xml:space="preserve">Positive</text>
<text x="274.81" y="1133.3" text-anchor="start" font-size="26" fill="#000" xml:space="preserve">Double</text>
<text x="270.49" y="1163.5" text-anchor="start" font-size="26" fill="#000" xml:space="preserve">Positive</text>
<text x="388.18" y="1133.3" text-anchor="start" font-size="26" fill="#000" xml:space="preserve">Triple</text>
<text x="374.39" y="1163.5" text-anchor="start" font-size="26" fill="#000" xml:space="preserve">Positive</text>
<path d="M468.5 1034.5L474.1 1040.1L468.5 1045.7L462.9 1040.1Z" fill="#ff0000"/>
<path d="M468.5 1076.5L474.1 1082.1L468.5 1087.7L462.9 1082.1Z" fill="#0000ff"/>
<text x="475.58" y="1046.7" text-anchor="start" font-size="21" fill="#000" xml:space="preserve">Low Grade</text>
<text x="475.5" y="1066.9" text-anchor="start" font-size="21" fill="#000" xml:space="preserve">(n=10)</text>
<text x="475.58" y="1088.4" text-anchor="start" font-size="21" fill="#000" xml:space="preserve">High Grade</text>
<text x="475.5" y="1107.3" text-anchor="start" font-size="21" fill="#000" xml:space="preserve">(n=8)</text>
<rect x="74.4" y="1176.8" width="378.6" height="246.2" fill="none" stroke="#3c3c3c" stroke-width="1.35"/>
<line x1="68" y1="1381.7" x2="74.4" y2="1381.7" stroke="#3c3c3c" stroke-width="1.35" />
<line x1="70.8" y1="1340.58" x2="74.4" y2="1340.58" stroke="#3c3c3c" stroke-width="1.35" />
<line x1="68" y1="1299.45" x2="74.4" y2="1299.45" stroke="#3c3c3c" stroke-width="1.35" />
<line x1="70.8" y1="1258.33" x2="74.4" y2="1258.33" stroke="#3c3c3c" stroke-width="1.35" />
<line x1="68" y1="1217.2" x2="74.4" y2="1217.2" stroke="#3c3c3c" stroke-width="1.35" />
<text x="18.69" y="1214.6" text-anchor="start" font-size="31" fill="#000" xml:space="preserve">100</text>
<text x="32.33" y="1307.4" text-anchor="start" font-size="31" fill="#000" xml:space="preserve">50</text>
<text x="51.77" y="1390.7" text-anchor="start" font-size="31" fill="#000" xml:space="preserve">0</text>
<text transform="translate(23.9,1435.97) rotate(-90)" font-size="30.6" fill="#000">% in CD8 T cells</text>
<text x="285.04" y="1204.7" text-anchor="start" font-size="31.2" fill="#000" xml:space="preserve">Fr.III (CD8)</text>
<line x1="197" y1="1252.6" x2="232.8" y2="1252.6" stroke="#333" stroke-width="1.9" />
<text x="210.74" y="1254.63" text-anchor="start" font-size="27" fill="#000" xml:space="preserve">*</text>
<line x1="284.4" y1="1252.6" x2="321" y2="1252.6" stroke="#333" stroke-width="1.9" />
<text x="298.64" y="1254.63" text-anchor="start" font-size="27" fill="#000" xml:space="preserve">*</text>
<line x1="105.6" y1="1279.8" x2="105.6" y2="1288.8" stroke="#ff5555" stroke-width="1.2" />
<line x1="105.6" y1="1335" x2="105.6" y2="1353" stroke="#ff5555" stroke-width="1.2" />
<rect x="90.4" y="1288.8" width="30.4" height="46.2" fill="none" stroke="#ff5555" stroke-width="1.2"/>
<line x1="90.4" y1="1328.6" x2="120.8" y2="1328.6" stroke="#ff5555" stroke-width="1.2" />
<path d="M105.6 1276.1L109.3 1279.8L105.6 1283.5L101.9 1279.8Z" fill="#ff0000"/>
<path d="M105.6 1283.3L109.3 1287L105.6 1290.7L101.9 1287Z" fill="#ff0000"/>
<path d="M105.6 1286.3L109.3 1290L105.6 1293.7L101.9 1290Z" fill="#ff0000"/>
<path d="M105.6 1315.5L109.3 1319.2L105.6 1322.9L101.9 1319.2Z" fill="#ff0000"/>
<path d="M105.6 1318.3L109.3 1322L105.6 1325.7L101.9 1322Z" fill="#ff0000"/>
<path d="M105.6 1324.3L109.3 1328L105.6 1331.7L101.9 1328Z" fill="#ff0000"/>
<path d="M105.6 1328.3L109.3 1332L105.6 1335.7L101.9 1332Z" fill="#ff0000"/>
<path d="M105.6 1349.3L109.3 1353L105.6 1356.7L101.9 1353Z" fill="#ff0000"/>
<line x1="137.5" y1="1229" x2="137.5" y2="1252.6" stroke="#5a5aff" stroke-width="1.2" />
<line x1="137.5" y1="1298.1" x2="137.5" y2="1361" stroke="#5a5aff" stroke-width="1.2" />
<rect x="122.3" y="1252.6" width="30.4" height="45.5" fill="none" stroke="#5a5aff" stroke-width="1.2"/>
<line x1="122.3" y1="1280.6" x2="152.7" y2="1280.6" stroke="#5a5aff" stroke-width="1.2" />
<path d="M137.5 1225.3L141.2 1229L137.5 1232.7L133.8 1229Z" fill="#0000ff"/>
<path d="M137.5 1248.9L141.2 1252.6L137.5 1256.3L133.8 1252.6Z" fill="#0000ff"/>
<path d="M137.5 1271.3L141.2 1275L137.5 1278.7L133.8 1275Z" fill="#0000ff"/>
<path d="M137.5 1276.3L141.2 1280L137.5 1283.7L133.8 1280Z" fill="#0000ff"/>
<path d="M137.5 1293.3L141.2 1297L137.5 1300.7L133.8 1297Z" fill="#0000ff"/>
<path d="M137.5 1357.3L141.2 1361L137.5 1364.7L133.8 1361Z" fill="#0000ff"/>
<line x1="200" y1="1297" x2="200" y2="1307.5" stroke="#ff5555" stroke-width="1.2" />
<line x1="200" y1="1337.5" x2="200" y2="1342" stroke="#ff5555" stroke-width="1.2" />
<rect x="184.75" y="1307.5" width="30.5" height="30" fill="none" stroke="#ff5555" stroke-width="1.2"/>
<line x1="184.75" y1="1324.5" x2="215.25" y2="1324.5" stroke="#ff5555" stroke-width="1.2" />
<path d="M200 1293.3L203.7 1297L200 1300.7L196.3 1297Z" fill="#ff0000"/>
<path d="M200 1303.8L203.7 1307.5L200 1311.2L196.3 1307.5Z" fill="#ff0000"/>
<path d="M200 1310.3L203.7 1314L200 1317.7L196.3 1314Z" fill="#ff0000"/>
<path d="M200 1315.3L203.7 1319L200 1322.7L196.3 1319Z" fill="#ff0000"/>
<path d="M200 1320.8L203.7 1324.5L200 1328.2L196.3 1324.5Z" fill="#ff0000"/>
<path d="M200 1326.3L203.7 1330L200 1333.7L196.3 1330Z" fill="#ff0000"/>
<path d="M200 1330.3L203.7 1334L200 1337.7L196.3 1334Z" fill="#ff0000"/>
<path d="M200 1333.8L203.7 1337.5L200 1341.2L196.3 1337.5Z" fill="#ff0000"/>
<path d="M200 1338.3L203.7 1342L200 1345.7L196.3 1342Z" fill="#ff0000"/>
<line x1="231.9" y1="1272" x2="231.9" y2="1332.2" stroke="#5a5aff" stroke-width="1.2" />
<line x1="231.9" y1="1354.6" x2="231.9" y2="1371.2" stroke="#5a5aff" stroke-width="1.2" />
<rect x="216.45" y="1332.2" width="30.9" height="22.4" fill="none" stroke="#5a5aff" stroke-width="1.2"/>
<line x1="216.45" y1="1348" x2="247.35" y2="1348" stroke="#5a5aff" stroke-width="1.2" />
<path d="M231.9 1268.3L235.6 1272L231.9 1275.7L228.2 1272Z" fill="#0000ff"/>
<path d="M231.9 1328.5L235.6 1332.2L231.9 1335.9L228.2 1332.2Z" fill="#0000ff"/>
<path d="M231.9 1339.3L235.6 1343L231.9 1346.7L228.2 1343Z" fill="#0000ff"/>
<path d="M231.9 1344.3L235.6 1348L231.9 1351.7L228.2 1348Z" fill="#0000ff"/>
<path d="M231.9 1349.3L235.6 1353L231.9 1356.7L228.2 1353Z" fill="#0000ff"/>
<path d="M231.9 1367.5L235.6 1371.2L231.9 1374.9L228.2 1371.2Z" fill="#0000ff"/>
<line x1="295.5" y1="1301.4" x2="295.5" y2="1335.5" stroke="#ff5555" stroke-width="1.2" />
<line x1="295.5" y1="1357.8" x2="295.5" y2="1363" stroke="#ff5555" stroke-width="1.2" />
<rect x="280.25" y="1335.5" width="30.5" height="22.3" fill="none" stroke="#ff5555" stroke-width="1.2"/>
<line x1="280.25" y1="1344.8" x2="310.75" y2="1344.8" stroke="#ff5555" stroke-width="1.2" />
<path d="M295.5 1297.7L299.2 1301.4L295.5 1305.1L291.8 1301.4Z" fill="#ff0000"/>
<path d="M295.5 1331.8L299.2 1335.5L295.5 1339.2L291.8 1335.5Z" fill="#ff0000"/>
<path d="M295.5 1335.3L299.2 1339L295.5 1342.7L291.8 1339Z" fill="#ff0000"/>
<path d="M295.5 1338.3L299.2 1342L295.5 1345.7L291.8 1342Z" fill="#ff0000"/>
<path d="M295.5 1341.1L299.2 1344.8L295.5 1348.5L291.8 1344.8Z" fill="#ff0000"/>
<path d="M295.5 1346.3L299.2 1350L295.5 1353.7L291.8 1350Z" fill="#ff0000"/>
<path d="M295.5 1354.1L299.2 1357.8L295.5 1361.5L291.8 1357.8Z" fill="#ff0000"/>
<path d="M295.5 1359.3L299.2 1363L295.5 1366.7L291.8 1363Z" fill="#ff0000"/>
<line x1="326.6" y1="1375.7" x2="326.6" y2="1381.4" stroke="#5a5aff" stroke-width="1.2" />
<rect x="311.2" y="1350.5" width="30.8" height="25.2" fill="none" stroke="#5a5aff" stroke-width="1.2"/>
<line x1="311.2" y1="1359" x2="342" y2="1359" stroke="#5a5aff" stroke-width="1.2" />
<path d="M326.6 1346.8L330.3 1350.5L326.6 1354.2L322.9 1350.5Z" fill="#0000ff"/>
<path d="M326.6 1350.3L330.3 1354L326.6 1357.7L322.9 1354Z" fill="#0000ff"/>
<path d="M326.6 1356.3L330.3 1360L326.6 1363.7L322.9 1360Z" fill="#0000ff"/>
<path d="M326.6 1368.3L330.3 1372L326.6 1375.7L322.9 1372Z" fill="#0000ff"/>
<path d="M326.6 1377.7L330.3 1381.4L326.6 1385.1L322.9 1381.4Z" fill="#0000ff"/>
<rect x="374.55" y="1378.3" width="30.9" height="3" fill="none" stroke="#ff5555" stroke-width="1.2"/>
<line x1="374.55" y1="1379.8" x2="405.45" y2="1379.8" stroke="#ff5555" stroke-width="1.2" />
<path d="M387 1376.1L390.7 1379.8L387 1383.5L383.3 1379.8Z" fill="#ff0000"/>
<path d="M390 1376.1L393.7 1379.8L390 1383.5L386.3 1379.8Z" fill="#ff0000"/>
<path d="M393 1376.1L396.7 1379.8L393 1383.5L389.3 1379.8Z" fill="#ff0000"/>
<line x1="420.9" y1="1371.2" x2="420.9" y2="1376.5" stroke="#5a5aff" stroke-width="1.2" />
<rect x="405.85" y="1376.5" width="30.1" height="5.7" fill="none" stroke="#5a5aff" stroke-width="1.2"/>
<line x1="405.85" y1="1379.5" x2="435.95" y2="1379.5" stroke="#5a5aff" stroke-width="1.2" />
<path d="M420.9 1367.5L424.6 1371.2L420.9 1374.9L417.2 1371.2Z" fill="#0000ff"/>
<path d="M420.9 1375.3L424.6 1379L420.9 1382.7L417.2 1379Z" fill="#0000ff"/>
<path d="M420.9 1378.5L424.6 1382.2L420.9 1385.9L417.2 1382.2Z" fill="#0000ff"/>
<text x="83.58" y="1446.4" text-anchor="start" font-size="26" fill="#000" xml:space="preserve">Triple</text>
<text x="64" y="1476" text-anchor="start" font-size="26" fill="#000" xml:space="preserve">Negative</text>
<text x="181.85" y="1446.4" text-anchor="start" font-size="26" fill="#000" xml:space="preserve">Single</text>
<text x="171.99" y="1476" text-anchor="start" font-size="26" fill="#000" xml:space="preserve">Positive</text>
<text x="275.21" y="1446.4" text-anchor="start" font-size="26" fill="#000" xml:space="preserve">Double</text>
<text x="270.89" y="1476" text-anchor="start" font-size="26" fill="#000" xml:space="preserve">Positive</text>
<text x="388.18" y="1446.4" text-anchor="start" font-size="26" fill="#000" xml:space="preserve">Triple</text>
<text x="374.39" y="1476" text-anchor="start" font-size="26" fill="#000" xml:space="preserve">Positive</text>
<path d="M463.6 1352.1L469.2 1357.7L463.6 1363.3L458 1357.7Z" fill="#ff0000"/>
<path d="M463.6 1393.6L469.2 1399.2L463.6 1404.8L458 1399.2Z" fill="#0000ff"/>
<text x="470.68" y="1363.9" text-anchor="start" font-size="21" fill="#000" xml:space="preserve">Low Grade</text>
<text x="470.6" y="1384.4" text-anchor="start" font-size="21" fill="#000" xml:space="preserve">(n=10)</text>
<text x="470.68" y="1405.5" text-anchor="start" font-size="21" fill="#000" xml:space="preserve">High Grade</text>
<text x="470.6" y="1425.7" text-anchor="start" font-size="21" fill="#000" xml:space="preserve">(n=8)</text>
<rect x="74.4" y="1503.7" width="378.6" height="250.8" fill="none" stroke="#3c3c3c" stroke-width="1.35"/>
<line x1="68" y1="1712.7" x2="74.4" y2="1712.7" stroke="#3c3c3c" stroke-width="1.35" />
<line x1="70.8" y1="1671.01" x2="74.4" y2="1671.01" stroke="#3c3c3c" stroke-width="1.35" />
<line x1="68" y1="1629.32" x2="74.4" y2="1629.32" stroke="#3c3c3c" stroke-width="1.35" />
<line x1="70.8" y1="1587.63" x2="74.4" y2="1587.63" stroke="#3c3c3c" stroke-width="1.35" />
<line x1="68" y1="1545.94" x2="74.4" y2="1545.94" stroke="#3c3c3c" stroke-width="1.35" />
<text x="18.69" y="1540.5" text-anchor="start" font-size="31" fill="#000" xml:space="preserve">100</text>
<text x="37.33" y="1634.2" text-anchor="start" font-size="31" fill="#000" xml:space="preserve">50</text>
<text x="51.77" y="1716.5" text-anchor="start" font-size="31" fill="#000" xml:space="preserve">0</text>
<text transform="translate(23.9,1765.29) rotate(-90)" font-size="30.2" fill="#000">% in CD8 T cells</text>
<text x="287.84" y="1536.9" text-anchor="start" font-size="31.2" fill="#000" xml:space="preserve">Fr.IV(CD8)</text>
<line x1="106.6" y1="1580.7" x2="106.6" y2="1612" stroke="#ff5555" stroke-width="1.2" />
<line x1="106.6" y1="1650.6" x2="106.6" y2="1663.6" stroke="#ff5555" stroke-width="1.2" />
<rect x="91.35" y="1612" width="30.5" height="38.6" fill="none" stroke="#ff5555" stroke-width="1.2"/>
<line x1="91.35" y1="1637.2" x2="121.85" y2="1637.2" stroke="#ff5555" stroke-width="1.2" />
<path d="M106.6 1577L110.3 1580.7L106.6 1584.4L102.9 1580.7Z" fill="#ff0000"/>
<path d="M106.6 1605.3L110.3 1609L106.6 1612.7L102.9 1609Z" fill="#ff0000"/>
<path d="M106.6 1608.3L110.3 1612L106.6 1615.7L102.9 1612Z" fill="#ff0000"/>
<path d="M106.6 1621.3L110.3 1625L106.6 1628.7L102.9 1625Z" fill="#ff0000"/>
<path d="M106.6 1633.5L110.3 1637.2L106.6 1640.9L102.9 1637.2Z" fill="#ff0000"/>
<path d="M106.6 1642.3L110.3 1646L106.6 1649.7L102.9 1646Z" fill="#ff0000"/>
<path d="M106.6 1659.9L110.3 1663.6L106.6 1667.3L102.9 1663.6Z" fill="#ff0000"/>
<line x1="138.1" y1="1564" x2="138.1" y2="1571" stroke="#5a5aff" stroke-width="1.2" />
<line x1="138.1" y1="1624.2" x2="138.1" y2="1677.8" stroke="#5a5aff" stroke-width="1.2" />
<rect x="123.05" y="1571" width="30.1" height="53.2" fill="none" stroke="#5a5aff" stroke-width="1.2"/>
<line x1="123.05" y1="1615.3" x2="153.15" y2="1615.3" stroke="#5a5aff" stroke-width="1.2" />
<rect x="136.6" y="1606.5" width="3" height="3" fill="none" stroke="#5a5aff" stroke-width="0.8"/>
<path d="M138.1 1560.3L141.8 1564L138.1 1567.7L134.4 1564Z" fill="#0000ff"/>
<path d="M138.1 1567.3L141.8 1571L138.1 1574.7L134.4 1571Z" fill="#0000ff"/>
<path d="M138.1 1586.8L141.8 1590.5L138.1 1594.2L134.4 1590.5Z" fill="#0000ff"/>
<path d="M138.1 1605.3L141.8 1609L138.1 1612.7L134.4 1609Z" fill="#0000ff"/>
<path d="M138.1 1611.6L141.8 1615.3L138.1 1619L134.4 1615.3Z" fill="#0000ff"/>
<path d="M138.1 1614.3L141.8 1618L138.1 1621.7L134.4 1618Z" fill="#0000ff"/>
<path d="M138.1 1621.3L141.8 1625L138.1 1628.7L134.4 1625Z" fill="#0000ff"/>
<path d="M138.1 1674.1L141.8 1677.8L138.1 1681.5L134.4 1677.8Z" fill="#0000ff"/>
<line x1="201" y1="1624.2" x2="201" y2="1635.6" stroke="#ff5555" stroke-width="1.2" />
<line x1="201" y1="1666.9" x2="201" y2="1685.1" stroke="#ff5555" stroke-width="1.2" />
<rect x="185.55" y="1635.6" width="30.9" height="31.3" fill="none" stroke="#ff5555" stroke-width="1.2"/>
<line x1="185.55" y1="1647.8" x2="216.45" y2="1647.8" stroke="#ff5555" stroke-width="1.2" />
<path d="M201 1620.5L204.7 1624.2L201 1627.9L197.3 1624.2Z" fill="#ff0000"/>
<path d="M201 1630.3L204.7 1634L201 1637.7L197.3 1634Z" fill="#ff0000"/>
<path d="M201 1635.3L204.7 1639L201 1642.7L197.3 1639Z" fill="#ff0000"/>
<path d="M201 1640.3L204.7 1644L201 1647.7L197.3 1644Z" fill="#ff0000"/>
<path d="M201 1645.3L204.7 1649L201 1652.7L197.3 1649Z" fill="#ff0000"/>
<path d="M201 1650.3L204.7 1654L201 1657.7L197.3 1654Z" fill="#ff0000"/>
<path d="M201 1656.3L204.7 1660L201 1663.7L197.3 1660Z" fill="#ff0000"/>
<path d="M201 1663.2L204.7 1666.9L201 1670.6L197.3 1666.9Z" fill="#ff0000"/>
<path d="M201 1681.4L204.7 1685.1L201 1688.8L197.3 1685.1Z" fill="#ff0000"/>
<line x1="232.6" y1="1607.1" x2="232.6" y2="1657.5" stroke="#5a5aff" stroke-width="1.2" />
<line x1="232.6" y1="1691.2" x2="232.6" y2="1695.3" stroke="#5a5aff" stroke-width="1.2" />
<rect x="217.35" y="1657.5" width="30.5" height="33.7" fill="none" stroke="#5a5aff" stroke-width="1.2"/>
<line x1="217.35" y1="1666.9" x2="247.85" y2="1666.9" stroke="#5a5aff" stroke-width="1.2" />
<path d="M232.6 1603.4L236.3 1607.1L232.6 1610.8L228.9 1607.1Z" fill="#0000ff"/>
<path d="M232.6 1653.8L236.3 1657.5L232.6 1661.2L228.9 1657.5Z" fill="#0000ff"/>
<path d="M232.6 1657.8L236.3 1661.5L232.6 1665.2L228.9 1661.5Z" fill="#0000ff"/>
<path d="M232.6 1663.2L236.3 1666.9L232.6 1670.6L228.9 1666.9Z" fill="#0000ff"/>
<path d="M232.6 1676.3L236.3 1680L232.6 1683.7L228.9 1680Z" fill="#0000ff"/>
<path d="M232.6 1691.6L236.3 1695.3L232.6 1699L228.9 1695.3Z" fill="#0000ff"/>
<line x1="296" y1="1666.9" x2="296" y2="1675" stroke="#ff5555" stroke-width="1.2" />
<line x1="296" y1="1699.4" x2="296" y2="1706.3" stroke="#ff5555" stroke-width="1.2" />
<rect x="281.15" y="1675" width="29.7" height="24.4" fill="none" stroke="#ff5555" stroke-width="1.2"/>
<line x1="281.15" y1="1686.4" x2="310.85" y2="1686.4" stroke="#ff5555" stroke-width="1.2" />
<path d="M296 1663.2L299.7 1666.9L296 1670.6L292.3 1666.9Z" fill="#ff0000"/>
<path d="M296 1667.3L299.7 1671L296 1674.7L292.3 1671Z" fill="#ff0000"/>
<path d="M296 1673.3L299.7 1677L296 1680.7L292.3 1677Z" fill="#ff0000"/>
<path d="M296 1679.3L299.7 1683L296 1686.7L292.3 1683Z" fill="#ff0000"/>
<path d="M296 1684.3L299.7 1688L296 1691.7L292.3 1688Z" fill="#ff0000"/>
<path d="M296 1689.3L299.7 1693L296 1696.7L292.3 1693Z" fill="#ff0000"/>
<path d="M296 1695.7L299.7 1699.4L296 1703.1L292.3 1699.4Z" fill="#ff0000"/>
<path d="M296 1702.6L299.7 1706.3L296 1710L292.3 1706.3Z" fill="#ff0000"/>
<line x1="327.2" y1="1708.7" x2="327.2" y2="1711.5" stroke="#5a5aff" stroke-width="1.2" />
<rect x="312" y="1686.4" width="30.4" height="22.3" fill="none" stroke="#5a5aff" stroke-width="1.2"/>
<line x1="312" y1="1694" x2="342.4" y2="1694" stroke="#5a5aff" stroke-width="1.2" />
<path d="M327.2 1681.3L330.9 1685L327.2 1688.7L323.5 1685Z" fill="#0000ff"/>
<path d="M327.2 1686.3L330.9 1690L327.2 1693.7L323.5 1690Z" fill="#0000ff"/>
<path d="M327.2 1692.8L330.9 1696.5L327.2 1700.2L323.5 1696.5Z" fill="#0000ff"/>
<path d="M327.2 1699.8L330.9 1703.5L327.2 1707.2L323.5 1703.5Z" fill="#0000ff"/>
<path d="M327.2 1707.8L330.9 1711.5L327.2 1715.2L323.5 1711.5Z" fill="#0000ff"/>
<rect x="375" y="1711.8" width="30" height="2" fill="none" stroke="#ff5555" stroke-width="1.2"/>
<line x1="375" y1="1712.8" x2="405" y2="1712.8" stroke="#ff5555" stroke-width="1.2" />
<path d="M382 1709.1L385.7 1712.8L382 1716.5L378.3 1712.8Z" fill="#ff0000"/>
<path d="M386 1709.1L389.7 1712.8L386 1716.5L382.3 1712.8Z" fill="#ff0000"/>
<path d="M390 1709.1L393.7 1712.8L390 1716.5L386.3 1712.8Z" fill="#ff0000"/>
<path d="M394 1709.1L397.7 1712.8L394 1716.5L390.3 1712.8Z" fill="#ff0000"/>
<path d="M398 1709.1L401.7 1712.8L398 1716.5L394.3 1712.8Z" fill="#ff0000"/>
<rect x="407.5" y="1712.4" width="30" height="0.8" fill="none" stroke="#5a5aff" stroke-width="1.2"/>
<line x1="407.5" y1="1712.8" x2="437.5" y2="1712.8" stroke="#5a5aff" stroke-width="1.2" />
<path d="M418.5 1709.1L422.2 1712.8L418.5 1716.5L414.8 1712.8Z" fill="#0000ff"/>
<path d="M422.5 1709.1L426.2 1712.8L422.5 1716.5L418.8 1712.8Z" fill="#0000ff"/>
<path d="M426.5 1709.1L430.2 1712.8L426.5 1716.5L422.8 1712.8Z" fill="#0000ff"/>
<text x="73.38" y="1778.6" text-anchor="start" font-size="26" fill="#000" xml:space="preserve">Triple</text>
<text x="53.8" y="1807" text-anchor="start" font-size="26" fill="#000" xml:space="preserve">Negative</text>
<text x="171.85" y="1778.6" text-anchor="start" font-size="26" fill="#000" xml:space="preserve">Single</text>
<text x="161.99" y="1807" text-anchor="start" font-size="26" fill="#000" xml:space="preserve">Positive</text>
<text x="265.01" y="1778.6" text-anchor="start" font-size="26" fill="#000" xml:space="preserve">Double</text>
<text x="260.69" y="1807" text-anchor="start" font-size="26" fill="#000" xml:space="preserve">Positive</text>
<text x="378.08" y="1778.6" text-anchor="start" font-size="26" fill="#000" xml:space="preserve">Triple</text>
<text x="364.29" y="1807" text-anchor="start" font-size="26" fill="#000" xml:space="preserve">Positive</text>
<path d="M463.6 1688.5L469.2 1694.1L463.6 1699.7L458 1694.1Z" fill="#ff0000"/>
<path d="M463.6 1730.5L469.2 1736.1L463.6 1741.7L458 1736.1Z" fill="#0000ff"/>
<text x="470.68" y="1701.1" text-anchor="start" font-size="21" fill="#000" xml:space="preserve">Low Grade</text>
<text x="470.6" y="1720.6" text-anchor="start" font-size="21" fill="#000" xml:space="preserve">(n=10)</text>
<text x="470.68" y="1742.3" text-anchor="start" font-size="21" fill="#000" xml:space="preserve">High Grade</text>
<text x="470.6" y="1762.6" text-anchor="start" font-size="21" fill="#000" xml:space="preserve">(n=8)</text>
<text transform="translate(571.83,848.01) scale(1.0502,1)" font-size="41" fill="#000">(f)</text>
<rect x="654.2" y="866.4" width="378.6" height="240.7" fill="none" stroke="#3c3c3c" stroke-width="1.35"/>
<line x1="651.2" y1="1106.48" x2="654.2" y2="1106.48" stroke="#3c3c3c" stroke-width="1.35" />
<line x1="649.5" y1="1079.8" x2="654.2" y2="1079.8" stroke="#3c3c3c" stroke-width="1.35" />
<line x1="651.2" y1="1053.12" x2="654.2" y2="1053.12" stroke="#3c3c3c" stroke-width="1.35" />
<line x1="649.5" y1="1026.44" x2="654.2" y2="1026.44" stroke="#3c3c3c" stroke-width="1.35" />
<line x1="651.2" y1="999.76" x2="654.2" y2="999.76" stroke="#3c3c3c" stroke-width="1.35" />
<line x1="649.5" y1="973.08" x2="654.2" y2="973.08" stroke="#3c3c3c" stroke-width="1.35" />
<line x1="651.2" y1="946.4" x2="654.2" y2="946.4" stroke="#3c3c3c" stroke-width="1.35" />
<line x1="649.5" y1="919.72" x2="654.2" y2="919.72" stroke="#3c3c3c" stroke-width="1.35" />
<line x1="651.2" y1="893.04" x2="654.2" y2="893.04" stroke="#3c3c3c" stroke-width="1.35" />
<line x1="649.5" y1="866.36" x2="654.2" y2="866.36" stroke="#3c3c3c" stroke-width="1.35" />
<text x="617.63" y="872.6" text-anchor="start" font-size="31" fill="#000" xml:space="preserve">80</text>
<text x="617.63" y="981.5" text-anchor="start" font-size="31" fill="#000" xml:space="preserve">40</text>
<text x="632.17" y="1084.4" text-anchor="start" font-size="31" fill="#000" xml:space="preserve">0</text>
<text transform="translate(614.9,1104.22) rotate(-90)" font-size="31.1" fill="#000">% in CD4 T cells</text>
<text x="880.04" y="899.5" text-anchor="start" font-size="31.2" fill="#000" xml:space="preserve">Fr.II (CD4)</text>
<line x1="757.6" y1="936.8" x2="831.3" y2="936.8" stroke="#333" stroke-width="1.9" />
<text x="779.59" y="937.83" text-anchor="start" font-size="27" fill="#000" xml:space="preserve">*</text>
<text x="791.89" y="937.83" text-anchor="start" font-size="27" fill="#000" xml:space="preserve">*</text>
<line x1="851.7" y1="936.8" x2="924.5" y2="936.8" stroke="#333" stroke-width="1.9" />
<text x="872.89" y="937.83" text-anchor="start" font-size="27" fill="#000" xml:space="preserve">*</text>
<text x="885.19" y="937.83" text-anchor="start" font-size="27" fill="#000" xml:space="preserve">*</text>
<line x1="685.9" y1="1030.8" x2="685.9" y2="1047" stroke="#ff5555" stroke-width="1.2" />
<rect x="670.45" y="1005.4" width="30.9" height="25.4" fill="none" stroke="#ff5555" stroke-width="1.2"/>
<line x1="670.45" y1="1011" x2="701.35" y2="1011" stroke="#ff5555" stroke-width="1.2" />
<path d="M685.9 947.9L689.6 951.6L685.9 955.3L682.2 951.6Z" fill="#ff0000"/>
<path d="M685.9 1001.7L689.6 1005.4L685.9 1009.1L682.2 1005.4Z" fill="#ff0000"/>
<path d="M685.9 1004.3L689.6 1008L685.9 1011.7L682.2 1008Z" fill="#ff0000"/>
<path d="M685.9 1009.3L689.6 1013L685.9 1016.7L682.2 1013Z" fill="#ff0000"/>
<path d="M685.9 1013.3L689.6 1017L685.9 1020.7L682.2 1017Z" fill="#ff0000"/>
<path d="M685.9 1018.3L689.6 1022L685.9 1025.7L682.2 1022Z" fill="#ff0000"/>
<path d="M685.9 1027.1L689.6 1030.8L685.9 1034.5L682.2 1030.8Z" fill="#ff0000"/>
<path d="M685.9 1034.3L689.6 1038L685.9 1041.7L682.2 1038Z" fill="#ff0000"/>
<path d="M685.9 1043.3L689.6 1047L685.9 1050.7L682.2 1047Z" fill="#ff0000"/>
<line x1="717.8" y1="902.9" x2="717.8" y2="924.1" stroke="#5a5aff" stroke-width="1.2" />
<line x1="717.8" y1="1023.6" x2="717.8" y2="1036" stroke="#5a5aff" stroke-width="1.2" />
<rect x="702.6" y="924.1" width="30.4" height="99.5" fill="none" stroke="#5a5aff" stroke-width="1.2"/>
<line x1="702.6" y1="984.2" x2="733" y2="984.2" stroke="#5a5aff" stroke-width="1.2" />
<rect x="716.3" y="971.3" width="3" height="3" fill="none" stroke="#5a5aff" stroke-width="0.8"/>
<path d="M717.8 899.2L721.5 902.9L717.8 906.6L714.1 902.9Z" fill="#0000ff"/>
<path d="M717.8 920.4L721.5 924.1L717.8 927.8L714.1 924.1Z" fill="#0000ff"/>
<path d="M717.8 946.7L721.5 950.4L717.8 954.1L714.1 950.4Z" fill="#0000ff"/>
<path d="M717.8 980.5L721.5 984.2L717.8 987.9L714.1 984.2Z" fill="#0000ff"/>
<path d="M717.8 1019.9L721.5 1023.6L717.8 1027.3L714.1 1023.6Z" fill="#0000ff"/>
<path d="M717.8 1032.3L721.5 1036L717.8 1039.7L714.1 1036Z" fill="#0000ff"/>
<line x1="781.2" y1="1037.2" x2="781.2" y2="1040.6" stroke="#ff5555" stroke-width="1.2" />
<line x1="781.2" y1="1049" x2="781.2" y2="1066" stroke="#ff5555" stroke-width="1.2" />
<rect x="765.75" y="1040.6" width="30.9" height="8.4" fill="none" stroke="#ff5555" stroke-width="1.2"/>
<line x1="765.75" y1="1043.5" x2="796.65" y2="1043.5" stroke="#ff5555" stroke-width="1.2" />
<path d="M781.2 1033.5L784.9 1037.2L781.2 1040.9L777.5 1037.2Z" fill="#ff0000"/>
<path d="M781.2 1036.9L784.9 1040.6L781.2 1044.3L777.5 1040.6Z" fill="#ff0000"/>
<path d="M781.2 1039.8L784.9 1043.5L781.2 1047.2L777.5 1043.5Z" fill="#ff0000"/>
<path d="M781.2 1043.3L784.9 1047L781.2 1050.7L777.5 1047Z" fill="#ff0000"/>
<path d="M781.2 1048.3L784.9 1052L781.2 1055.7L777.5 1052Z" fill="#ff0000"/>
<path d="M781.2 1062.3L784.9 1066L781.2 1069.7L777.5 1066Z" fill="#ff0000"/>
<line x1="812.5" y1="1008.8" x2="812.5" y2="1017.3" stroke="#5a5aff" stroke-width="1.2" />
<line x1="812.5" y1="1037.2" x2="812.5" y2="1059.2" stroke="#5a5aff" stroke-width="1.2" />
<rect x="796.6" y="1017.3" width="31.8" height="19.9" fill="none" stroke="#5a5aff" stroke-width="1.2"/>
<line x1="796.6" y1="1035" x2="828.4" y2="1035" stroke="#5a5aff" stroke-width="1.2" />
<path d="M812.5 1005.1L816.2 1008.8L812.5 1012.5L808.8 1008.8Z" fill="#0000ff"/>
<path d="M812.5 1013.6L816.2 1017.3L812.5 1021L808.8 1017.3Z" fill="#0000ff"/>
<path d="M812.5 1023.3L816.2 1027L812.5 1030.7L808.8 1027Z" fill="#0000ff"/>
<path d="M812.5 1029.3L816.2 1033L812.5 1036.7L808.8 1033Z" fill="#0000ff"/>
<path d="M812.5 1033.5L816.2 1037.2L812.5 1040.9L808.8 1037.2Z" fill="#0000ff"/>
<path d="M812.5 1055.5L816.2 1059.2L812.5 1062.9L808.8 1059.2Z" fill="#0000ff"/>
<line x1="874.6" y1="954.6" x2="874.6" y2="977.9" stroke="#ff5555" stroke-width="1.2" />
<line x1="874.6" y1="1022.4" x2="874.6" y2="1026.6" stroke="#ff5555" stroke-width="1.2" />
<rect x="859.35" y="977.9" width="30.5" height="44.5" fill="none" stroke="#ff5555" stroke-width="1.2"/>
<line x1="859.35" y1="1005.4" x2="889.85" y2="1005.4" stroke="#ff5555" stroke-width="1.2" />
<path d="M874.6 950.9L878.3 954.6L874.6 958.3L870.9 954.6Z" fill="#ff0000"/>
<path d="M874.6 959.3L878.3 963L874.6 966.7L870.9 963Z" fill="#ff0000"/>
<path d="M874.6 966.3L878.3 970L874.6 973.7L870.9 970Z" fill="#ff0000"/>
<path d="M874.6 974.2L878.3 977.9L874.6 981.6L870.9 977.9Z" fill="#ff0000"/>
<path d="M874.6 982.3L878.3 986L874.6 989.7L870.9 986Z" fill="#ff0000"/>
<path d="M874.6 990.3L878.3 994L874.6 997.7L870.9 994Z" fill="#ff0000"/>
<path d="M874.6 997.3L878.3 1001L874.6 1004.7L870.9 1001Z" fill="#ff0000"/>
<path d="M874.6 1005.3L878.3 1009L874.6 1012.7L870.9 1009Z" fill="#ff0000"/>
<path d="M874.6 1018.7L878.3 1022.4L874.6 1026.1L870.9 1022.4Z" fill="#ff0000"/>
<path d="M874.6 1022.9L878.3 1026.6L874.6 1030.3L870.9 1026.6Z" fill="#ff0000"/>
<line x1="906.9" y1="1011" x2="906.9" y2="1021.1" stroke="#5a5aff" stroke-width="1.2" />
<rect x="891" y="1021.1" width="31.8" height="31.8" fill="none" stroke="#5a5aff" stroke-width="1.2"/>
<line x1="891" y1="1022.4" x2="922.8" y2="1022.4" stroke="#5a5aff" stroke-width="1.2" />
<path d="M906.9 1007.3L910.6 1011L906.9 1014.7L903.2 1011Z" fill="#0000ff"/>
<path d="M906.9 1017.4L910.6 1021.1L906.9 1024.8L903.2 1021.1Z" fill="#0000ff"/>
<path d="M906.9 1028.3L910.6 1032L906.9 1035.7L903.2 1032Z" fill="#0000ff"/>
<path d="M906.9 1049.2L910.6 1052.9L906.9 1056.6L903.2 1052.9Z" fill="#0000ff"/>
<line x1="969.6" y1="960.1" x2="969.6" y2="982.5" stroke="#ff5555" stroke-width="1.2" />
<line x1="969.6" y1="1006.3" x2="969.6" y2="1025.7" stroke="#ff5555" stroke-width="1.2" />
<rect x="954.2" y="982.5" width="30.8" height="23.8" fill="none" stroke="#ff5555" stroke-width="1.2"/>
<line x1="954.2" y1="997.8" x2="985" y2="997.8" stroke="#ff5555" stroke-width="1.2" />
<path d="M969.6 956.4L973.3 960.1L969.6 963.8L965.9 960.1Z" fill="#ff0000"/>
<path d="M969.6 961.3L973.3 965L969.6 968.7L965.9 965Z" fill="#ff0000"/>
<path d="M969.6 978.8L973.3 982.5L969.6 986.2L965.9 982.5Z" fill="#ff0000"/>
<path d="M969.6 988.3L973.3 992L969.6 995.7L965.9 992Z" fill="#ff0000"/>
<path d="M969.6 994.1L973.3 997.8L969.6 1001.5L965.9 997.8Z" fill="#ff0000"/>
<path d="M969.6 1002.6L973.3 1006.3L969.6 1010L965.9 1006.3Z" fill="#ff0000"/>
<path d="M969.6 1011.3L973.3 1015L969.6 1018.7L965.9 1015Z" fill="#ff0000"/>
<path d="M969.6 1022L973.3 1025.7L969.6 1029.4L965.9 1025.7Z" fill="#ff0000"/>
<line x1="1001.6" y1="927" x2="1001.6" y2="982.5" stroke="#5a5aff" stroke-width="1.2" />
<line x1="1001.6" y1="1058.4" x2="1001.6" y2="1067.7" stroke="#5a5aff" stroke-width="1.2" />
<rect x="986.35" y="982.5" width="30.5" height="75.9" fill="none" stroke="#5a5aff" stroke-width="1.2"/>
<line x1="986.35" y1="1028.7" x2="1016.85" y2="1028.7" stroke="#5a5aff" stroke-width="1.2" />
<rect x="1000.1" y="1017.3" width="3" height="3" fill="none" stroke="#5a5aff" stroke-width="0.8"/>
<path d="M1001.6 923.3L1005.3 927L1001.6 930.7L997.9 927Z" fill="#0000ff"/>
<path d="M1001.6 978.8L1005.3 982.5L1001.6 986.2L997.9 982.5Z" fill="#0000ff"/>
<path d="M1001.6 1006.3L1005.3 1010L1001.6 1013.7L997.9 1010Z" fill="#0000ff"/>
<path d="M1001.6 1025L1005.3 1028.7L1001.6 1032.4L997.9 1028.7Z" fill="#0000ff"/>
<path d="M1001.6 1050.3L1005.3 1054L1001.6 1057.7L997.9 1054Z" fill="#0000ff"/>
<path d="M1001.6 1064L1005.3 1067.7L1001.6 1071.4L997.9 1067.7Z" fill="#0000ff"/>
<text x="669.48" y="1134.6" text-anchor="start" font-size="26" fill="#000" xml:space="preserve">Triple</text>
<text x="649.9" y="1164.2" text-anchor="start" font-size="26" fill="#000" xml:space="preserve">Negative</text>
<text x="767.65" y="1134.6" text-anchor="start" font-size="26" fill="#000" xml:space="preserve">Single</text>
<text x="757.79" y="1164.2" text-anchor="start" font-size="26" fill="#000" xml:space="preserve">Positive</text>
<text x="860.81" y="1134.6" text-anchor="start" font-size="26" fill="#000" xml:space="preserve">Double</text>
<text x="856.49" y="1164.2" text-anchor="start" font-size="26" fill="#000" xml:space="preserve">Positive</text>
<text x="974.08" y="1134.6" text-anchor="start" font-size="26" fill="#000" xml:space="preserve">Triple</text>
<text x="960.29" y="1164.2" text-anchor="start" font-size="26" fill="#000" xml:space="preserve">Positive</text>
<path d="M1043.7 1036.1L1049.3 1041.7L1043.7 1047.3L1038.1 1041.7Z" fill="#ff0000"/>
<path d="M1043.7 1077.9L1049.3 1083.5L1043.7 1089.1L1038.1 1083.5Z" fill="#0000ff"/>
<text x="1050.78" y="1049.1" text-anchor="start" font-size="21" fill="#000" xml:space="preserve">Low Grade</text>
<text x="1050.7" y="1069.9" text-anchor="start" font-size="21" fill="#000" xml:space="preserve">(n=10)</text>
<text x="1050.78" y="1090.6" text-anchor="start" font-size="21" fill="#000" xml:space="preserve">High Grade</text>
<text x="1050.7" y="1111.3" text-anchor="start" font-size="21" fill="#000" xml:space="preserve">(n=8)</text>
<rect x="654.5" y="1176.8" width="378" height="237.7" fill="none" stroke="#3c3c3c" stroke-width="1.35"/>
<line x1="651.5" y1="1417.66" x2="654.5" y2="1417.66" stroke="#3c3c3c" stroke-width="1.35" />
<line x1="649.8" y1="1390.9" x2="654.5" y2="1390.9" stroke="#3c3c3c" stroke-width="1.35" />
<line x1="651.5" y1="1364.14" x2="654.5" y2="1364.14" stroke="#3c3c3c" stroke-width="1.35" />
<line x1="649.8" y1="1337.38" x2="654.5" y2="1337.38" stroke="#3c3c3c" stroke-width="1.35" />
<line x1="651.5" y1="1310.62" x2="654.5" y2="1310.62" stroke="#3c3c3c" stroke-width="1.35" />
<line x1="649.8" y1="1283.86" x2="654.5" y2="1283.86" stroke="#3c3c3c" stroke-width="1.35" />
<line x1="651.5" y1="1257.1" x2="654.5" y2="1257.1" stroke="#3c3c3c" stroke-width="1.35" />
<line x1="649.8" y1="1230.34" x2="654.5" y2="1230.34" stroke="#3c3c3c" stroke-width="1.35" />
<line x1="651.5" y1="1203.58" x2="654.5" y2="1203.58" stroke="#3c3c3c" stroke-width="1.35" />
<line x1="649.8" y1="1176.82" x2="654.5" y2="1176.82" stroke="#3c3c3c" stroke-width="1.35" />
<text x="617.63" y="1188" text-anchor="start" font-size="31" fill="#000" xml:space="preserve">80</text>
<text x="617.03" y="1292" text-anchor="start" font-size="31" fill="#000" xml:space="preserve">40</text>
<text x="631.97" y="1389.4" text-anchor="start" font-size="31" fill="#000" xml:space="preserve">0</text>
<text transform="translate(614.9,1413.18) rotate(-90)" font-size="30.9" fill="#000">% in CD4 T cells</text>
<text x="866.04" y="1204.5" text-anchor="start" font-size="31.2" fill="#000" xml:space="preserve">Fr.III (CD4)</text>
<line x1="663.9" y1="1211.3" x2="738.2" y2="1211.3" stroke="#333" stroke-width="1.9" />
<text x="686.39" y="1211.93" text-anchor="start" font-size="27" fill="#000" xml:space="preserve">*</text>
<text x="698.69" y="1211.93" text-anchor="start" font-size="27" fill="#000" xml:space="preserve">*</text>
<line x1="753" y1="1237.5" x2="826.2" y2="1237.5" stroke="#333" stroke-width="1.9" />
<text x="774.19" y="1238.23" text-anchor="start" font-size="27" fill="#000" xml:space="preserve">*</text>
<text x="786.49" y="1238.23" text-anchor="start" font-size="27" fill="#000" xml:space="preserve">*</text>
<line x1="851.7" y1="1237.5" x2="924.5" y2="1237.5" stroke="#333" stroke-width="1.9" />
<text x="878.54" y="1238.23" text-anchor="start" font-size="27" fill="#000" xml:space="preserve">*</text>
<line x1="954.6" y1="1237.5" x2="1028.3" y2="1237.5" stroke="#333" stroke-width="1.9" />
<text x="982.74" y="1238.23" text-anchor="start" font-size="27" fill="#000" xml:space="preserve">*</text>
<line x1="686" y1="1304.9" x2="686" y2="1320.1" stroke="#ff5555" stroke-width="1.2" />
<line x1="686" y1="1351.4" x2="686" y2="1366.3" stroke="#ff5555" stroke-width="1.2" />
<rect x="670.75" y="1320.1" width="30.5" height="31.3" fill="none" stroke="#ff5555" stroke-width="1.2"/>
<line x1="670.75" y1="1334.1" x2="701.25" y2="1334.1" stroke="#ff5555" stroke-width="1.2" />
<path d="M686 1301.2L689.7 1304.9L686 1308.6L682.3 1304.9Z" fill="#ff0000"/>
<path d="M686 1316.4L689.7 1320.1L686 1323.8L682.3 1320.1Z" fill="#ff0000"/>
<path d="M686 1328.3L689.7 1332L686 1335.7L682.3 1332Z" fill="#ff0000"/>
<path d="M686 1332.3L689.7 1336L686 1339.7L682.3 1336Z" fill="#ff0000"/>
<path d="M686 1339.3L689.7 1343L686 1346.7L682.3 1343Z" fill="#ff0000"/>
<path d="M686 1347.7L689.7 1351.4L686 1355.1L682.3 1351.4Z" fill="#ff0000"/>
<path d="M686 1362.6L689.7 1366.3L686 1370L682.3 1366.3Z" fill="#ff0000"/>
<line x1="717.8" y1="1227.8" x2="717.8" y2="1240.5" stroke="#5a5aff" stroke-width="1.2" />
<line x1="717.8" y1="1328.1" x2="717.8" y2="1352.7" stroke="#5a5aff" stroke-width="1.2" />
<rect x="702.6" y="1240.5" width="30.4" height="87.6" fill="none" stroke="#5a5aff" stroke-width="1.2"/>
<line x1="702.6" y1="1297.7" x2="733" y2="1297.7" stroke="#5a5aff" stroke-width="1.2" />
<rect x="716.3" y="1290" width="3" height="3" fill="none" stroke="#5a5aff" stroke-width="0.8"/>
<path d="M717.8 1224.1L721.5 1227.8L717.8 1231.5L714.1 1227.8Z" fill="#0000ff"/>
<path d="M717.8 1236.8L721.5 1240.5L717.8 1244.2L714.1 1240.5Z" fill="#0000ff"/>
<path d="M717.8 1271.9L721.5 1275.6L717.8 1279.3L714.1 1275.6Z" fill="#0000ff"/>
<path d="M717.8 1294L721.5 1297.7L717.8 1301.4L714.1 1297.7Z" fill="#0000ff"/>
<path d="M717.8 1310.9L721.5 1314.6L717.8 1318.3L714.1 1314.6Z" fill="#0000ff"/>
<path d="M717.8 1324.4L721.5 1328.1L717.8 1331.8L714.1 1328.1Z" fill="#0000ff"/>
<path d="M717.8 1349L721.5 1352.7L717.8 1356.4L714.1 1352.7Z" fill="#0000ff"/>
<line x1="780.3" y1="1324.3" x2="780.3" y2="1340" stroke="#ff5555" stroke-width="1.2" />
<line x1="780.3" y1="1362" x2="780.3" y2="1366.3" stroke="#ff5555" stroke-width="1.2" />
<rect x="764.85" y="1340" width="30.9" height="22" fill="none" stroke="#ff5555" stroke-width="1.2"/>
<line x1="764.85" y1="1346.4" x2="795.75" y2="1346.4" stroke="#ff5555" stroke-width="1.2" />
<path d="M780.3 1320.6L784 1324.3L780.3 1328L776.6 1324.3Z" fill="#ff0000"/>
<path d="M780.3 1336.3L784 1340L780.3 1343.7L776.6 1340Z" fill="#ff0000"/>
<path d="M780.3 1339.3L784 1343L780.3 1346.7L776.6 1343Z" fill="#ff0000"/>
<path d="M780.3 1342.7L784 1346.4L780.3 1350.1L776.6 1346.4Z" fill="#ff0000"/>
<path d="M780.3 1346.8L784 1350.5L780.3 1354.2L776.6 1350.5Z" fill="#ff0000"/>
<path d="M780.3 1358.3L784 1362L780.3 1365.7L776.6 1362Z" fill="#ff0000"/>
<path d="M780.3 1362.6L784 1366.3L780.3 1370L776.6 1366.3Z" fill="#ff0000"/>
<line x1="812.3" y1="1289.2" x2="812.3" y2="1304.9" stroke="#5a5aff" stroke-width="1.2" />
<line x1="812.3" y1="1330.3" x2="812.3" y2="1353.6" stroke="#5a5aff" stroke-width="1.2" />
<rect x="796.65" y="1304.9" width="31.3" height="25.4" fill="none" stroke="#5a5aff" stroke-width="1.2"/>
<line x1="796.65" y1="1323.1" x2="827.95" y2="1323.1" stroke="#5a5aff" stroke-width="1.2" />
<path d="M812.3 1285.5L816 1289.2L812.3 1292.9L808.6 1289.2Z" fill="#0000ff"/>
<path d="M812.3 1301.2L816 1304.9L812.3 1308.6L808.6 1304.9Z" fill="#0000ff"/>
<path d="M812.3 1306.8L816 1310.5L812.3 1314.2L808.6 1310.5Z" fill="#0000ff"/>
<path d="M812.3 1319.4L816 1323.1L812.3 1326.8L808.6 1323.1Z" fill="#0000ff"/>
<path d="M812.3 1323.3L816 1327L812.3 1330.7L808.6 1327Z" fill="#0000ff"/>
<path d="M812.3 1326.6L816 1330.3L812.3 1334L808.6 1330.3Z" fill="#0000ff"/>
<path d="M812.3 1349.9L816 1353.6L812.3 1357.3L808.6 1353.6Z" fill="#0000ff"/>
<line x1="874.95" y1="1246.8" x2="874.95" y2="1287.9" stroke="#ff5555" stroke-width="1.2" />
<line x1="874.95" y1="1317.6" x2="874.95" y2="1332.8" stroke="#ff5555" stroke-width="1.2" />
<rect x="859.3" y="1287.9" width="31.3" height="29.7" fill="none" stroke="#ff5555" stroke-width="1.2"/>
<line x1="859.3" y1="1301" x2="890.6" y2="1301" stroke="#ff5555" stroke-width="1.2" />
<path d="M874.95 1243.1L878.65 1246.8L874.95 1250.5L871.25 1246.8Z" fill="#ff0000"/>
<path d="M874.95 1260.9L878.65 1264.6L874.95 1268.3L871.25 1264.6Z" fill="#ff0000"/>
<path d="M874.95 1283.3L878.65 1287L874.95 1290.7L871.25 1287Z" fill="#ff0000"/>
<path d="M874.95 1287.3L878.65 1291L874.95 1294.7L871.25 1291Z" fill="#ff0000"/>
<path d="M874.95 1297.3L878.65 1301L874.95 1304.7L871.25 1301Z" fill="#ff0000"/>
<path d="M874.95 1303.8L878.65 1307.5L874.95 1311.2L871.25 1307.5Z" fill="#ff0000"/>
<path d="M874.95 1313.9L878.65 1317.6L874.95 1321.3L871.25 1317.6Z" fill="#ff0000"/>
<path d="M874.95 1329.1L878.65 1332.8L874.95 1336.5L871.25 1332.8Z" fill="#ff0000"/>
<line x1="906.7" y1="1280.7" x2="906.7" y2="1309.5" stroke="#5a5aff" stroke-width="1.2" />
<line x1="906.7" y1="1359.1" x2="906.7" y2="1375.2" stroke="#5a5aff" stroke-width="1.2" />
<rect x="891" y="1309.5" width="31.4" height="49.6" fill="none" stroke="#5a5aff" stroke-width="1.2"/>
<line x1="891" y1="1339.2" x2="922.4" y2="1339.2" stroke="#5a5aff" stroke-width="1.2" />
<rect x="905.2" y="1330.5" width="3" height="3" fill="none" stroke="#5a5aff" stroke-width="0.8"/>
<path d="M906.7 1277L910.4 1280.7L906.7 1284.4L903 1280.7Z" fill="#0000ff"/>
<path d="M906.7 1305.8L910.4 1309.5L906.7 1313.2L903 1309.5Z" fill="#0000ff"/>
<path d="M906.7 1314.3L910.4 1318L906.7 1321.7L903 1318Z" fill="#0000ff"/>
<path d="M906.7 1335.5L910.4 1339.2L906.7 1342.9L903 1339.2Z" fill="#0000ff"/>
<path d="M906.7 1339.8L910.4 1343.5L906.7 1347.2L903 1343.5Z" fill="#0000ff"/>
<path d="M906.7 1355.4L910.4 1359.1L906.7 1362.8L903 1359.1Z" fill="#0000ff"/>
<path d="M906.7 1371.5L910.4 1375.2L906.7 1378.9L903 1375.2Z" fill="#0000ff"/>
<line x1="969.6" y1="1280.7" x2="969.6" y2="1299.8" stroke="#ff5555" stroke-width="1.2" />
<line x1="969.6" y1="1326" x2="969.6" y2="1333.7" stroke="#ff5555" stroke-width="1.2" />
<rect x="954.2" y="1299.8" width="30.8" height="26.2" fill="none" stroke="#ff5555" stroke-width="1.2"/>
<line x1="954.2" y1="1322.2" x2="985" y2="1322.2" stroke="#ff5555" stroke-width="1.2" />
<path d="M969.6 1277L973.3 1280.7L969.6 1284.4L965.9 1280.7Z" fill="#ff0000"/>
<path d="M969.6 1293.8L973.3 1297.5L969.6 1301.2L965.9 1297.5Z" fill="#ff0000"/>
<path d="M969.6 1298.3L973.3 1302L969.6 1305.7L965.9 1302Z" fill="#ff0000"/>
<path d="M969.6 1304.3L973.3 1308L969.6 1311.7L965.9 1308Z" fill="#ff0000"/>
<path d="M969.6 1312.3L973.3 1316L969.6 1319.7L965.9 1316Z" fill="#ff0000"/>
<path d="M969.6 1317.3L973.3 1321L969.6 1324.7L965.9 1321Z" fill="#ff0000"/>
<path d="M969.6 1322.3L973.3 1326L969.6 1329.7L965.9 1326Z" fill="#ff0000"/>
<path d="M969.6 1330L973.3 1333.7L969.6 1337.4L965.9 1333.7Z" fill="#ff0000"/>
<line x1="1001.35" y1="1289.2" x2="1001.35" y2="1334.5" stroke="#5a5aff" stroke-width="1.2" />
<line x1="1001.35" y1="1373.9" x2="1001.35" y2="1387.9" stroke="#5a5aff" stroke-width="1.2" />
<rect x="985.9" y="1334.5" width="30.9" height="39.4" fill="none" stroke="#5a5aff" stroke-width="1.2"/>
<line x1="985.9" y1="1366.3" x2="1016.8" y2="1366.3" stroke="#5a5aff" stroke-width="1.2" />
<path d="M1001.35 1285.5L1005.05 1289.2L1001.35 1292.9L997.65 1289.2Z" fill="#0000ff"/>
<path d="M1001.35 1330.8L1005.05 1334.5L1001.35 1338.2L997.65 1334.5Z" fill="#0000ff"/>
<path d="M1001.35 1347.8L1005.05 1351.5L1001.35 1355.2L997.65 1351.5Z" fill="#0000ff"/>
<path d="M1001.35 1362.6L1005.05 1366.3L1001.35 1370L997.65 1366.3Z" fill="#0000ff"/>
<path d="M1001.35 1366.8L1005.05 1370.5L1001.35 1374.2L997.65 1370.5Z" fill="#0000ff"/>
<path d="M1001.35 1370.2L1005.05 1373.9L1001.35 1377.6L997.65 1373.9Z" fill="#0000ff"/>
<path d="M1001.35 1384.2L1005.05 1387.9L1001.35 1391.6L997.65 1387.9Z" fill="#0000ff"/>
<text x="663.58" y="1443.8" text-anchor="start" font-size="26" fill="#000" xml:space="preserve">Triple</text>
<text x="644" y="1473.4" text-anchor="start" font-size="26" fill="#000" xml:space="preserve">Negative</text>
<text x="762.55" y="1443.8" text-anchor="start" font-size="26" fill="#000" xml:space="preserve">Single</text>
<text x="752.69" y="1473.4" text-anchor="start" font-size="26" fill="#000" xml:space="preserve">Positive</text>
<text x="855.31" y="1443.8" text-anchor="start" font-size="26" fill="#000" xml:space="preserve">Double</text>
<text x="850.99" y="1473.4" text-anchor="start" font-size="26" fill="#000" xml:space="preserve">Positive</text>
<text x="968.48" y="1443.8" text-anchor="start" font-size="26" fill="#000" xml:space="preserve">Triple</text>
<text x="954.69" y="1473.4" text-anchor="start" font-size="26" fill="#000" xml:space="preserve">Positive</text>
<path d="M1043.7 1352.1L1049.3 1357.7L1043.7 1363.3L1038.1 1357.7Z" fill="#ff0000"/>
<path d="M1043.7 1393.7L1049.3 1399.3L1043.7 1404.9L1038.1 1399.3Z" fill="#0000ff"/>
<text x="1050.78" y="1364.8" text-anchor="start" font-size="21" fill="#000" xml:space="preserve">Low Grade</text>
<text x="1050.7" y="1385.7" text-anchor="start" font-size="21" fill="#000" xml:space="preserve">(n=10)</text>
<text x="1050.78" y="1406.7" text-anchor="start" font-size="21" fill="#000" xml:space="preserve">High Grade</text>
<text x="1050.7" y="1427.2" text-anchor="start" font-size="21" fill="#000" xml:space="preserve">(n=8)</text>
<rect x="653.7" y="1503.7" width="378.8" height="246.4" fill="none" stroke="#3c3c3c" stroke-width="1.35"/>
<line x1="647.7" y1="1708.5" x2="653.7" y2="1708.5" stroke="#3c3c3c" stroke-width="1.35" />
<line x1="650.2" y1="1667.5" x2="653.7" y2="1667.5" stroke="#3c3c3c" stroke-width="1.35" />
<line x1="647.7" y1="1626.5" x2="653.7" y2="1626.5" stroke="#3c3c3c" stroke-width="1.35" />
<line x1="650.2" y1="1585.5" x2="653.7" y2="1585.5" stroke="#3c3c3c" stroke-width="1.35" />
<line x1="647.7" y1="1544.5" x2="653.7" y2="1544.5" stroke="#3c3c3c" stroke-width="1.35" />
<text x="603.29" y="1540.5" text-anchor="start" font-size="31" fill="#000" xml:space="preserve">100</text>
<text x="617.33" y="1634.2" text-anchor="start" font-size="31" fill="#000" xml:space="preserve">50</text>
<text x="631.77" y="1716.7" text-anchor="start" font-size="31" fill="#000" xml:space="preserve">0</text>
<text transform="translate(614.7,1773.57) rotate(-90)" font-size="30.6" fill="#000">% in CD4 T cells</text>
<text x="872.44" y="1536.3" text-anchor="start" font-size="31.2" fill="#000" xml:space="preserve">Fr.V(CD4)</text>
<line x1="856.7" y1="1594.4" x2="929.2" y2="1594.4" stroke="#333" stroke-width="1.9" />
<text x="884.54" y="1595.53" text-anchor="start" font-size="27" fill="#000" xml:space="preserve">*</text>
<line x1="954.6" y1="1594.4" x2="1028.3" y2="1594.4" stroke="#333" stroke-width="1.9" />
<text x="981.29" y="1595.53" text-anchor="start" font-size="27" fill="#000" xml:space="preserve">*</text>
<text x="993.59" y="1595.53" text-anchor="start" font-size="27" fill="#000" xml:space="preserve">*</text>
<line x1="684.75" y1="1556.2" x2="684.75" y2="1569.8" stroke="#ff5555" stroke-width="1.2" />
<line x1="684.75" y1="1588.4" x2="684.75" y2="1609.6" stroke="#ff5555" stroke-width="1.2" />
<rect x="669.5" y="1569.8" width="30.5" height="18.6" fill="none" stroke="#ff5555" stroke-width="1.2"/>
<line x1="669.5" y1="1581.7" x2="700" y2="1581.7" stroke="#ff5555" stroke-width="1.2" />
<path d="M684.75 1552.5L688.45 1556.2L684.75 1559.9L681.05 1556.2Z" fill="#ff0000"/>
<path d="M684.75 1566.1L688.45 1569.8L684.75 1573.5L681.05 1569.8Z" fill="#ff0000"/>
<path d="M684.75 1570.3L688.45 1574L684.75 1577.7L681.05 1574Z" fill="#ff0000"/>
<path d="M684.75 1574.3L688.45 1578L684.75 1581.7L681.05 1578Z" fill="#ff0000"/>
<path d="M684.75 1578L688.45 1581.7L684.75 1585.4L681.05 1581.7Z" fill="#ff0000"/>
<path d="M684.75 1581.3L688.45 1585L684.75 1588.7L681.05 1585Z" fill="#ff0000"/>
<path d="M684.75 1584.7L688.45 1588.4L684.75 1592.1L681.05 1588.4Z" fill="#ff0000"/>
<path d="M684.75 1590.3L688.45 1594L684.75 1597.7L681.05 1594Z" fill="#ff0000"/>
<path d="M684.75 1605.9L688.45 1609.6L684.75 1613.3L681.05 1609.6Z" fill="#ff0000"/>
<line x1="716.75" y1="1553.3" x2="716.75" y2="1573.2" stroke="#5a5aff" stroke-width="1.2" />
<line x1="716.75" y1="1592.2" x2="716.75" y2="1599.4" stroke="#5a5aff" stroke-width="1.2" />
<rect x="701.3" y="1573.2" width="30.9" height="19" fill="none" stroke="#5a5aff" stroke-width="1.2"/>
<line x1="701.3" y1="1579.5" x2="732.2" y2="1579.5" stroke="#5a5aff" stroke-width="1.2" />
<path d="M716.75 1549.6L720.45 1553.3L716.75 1557L713.05 1553.3Z" fill="#0000ff"/>
<path d="M716.75 1569.5L720.45 1573.2L716.75 1576.9L713.05 1573.2Z" fill="#0000ff"/>
<path d="M716.75 1575.8L720.45 1579.5L716.75 1583.2L713.05 1579.5Z" fill="#0000ff"/>
<path d="M716.75 1582.3L720.45 1586L716.75 1589.7L713.05 1586Z" fill="#0000ff"/>
<path d="M716.75 1588.5L720.45 1592.2L716.75 1595.9L713.05 1592.2Z" fill="#0000ff"/>
<path d="M716.75 1595.7L720.45 1599.4L716.75 1603.1L713.05 1599.4Z" fill="#0000ff"/>
<line x1="780.05" y1="1666.4" x2="780.05" y2="1680.3" stroke="#ff5555" stroke-width="1.2" />
<line x1="780.05" y1="1693.9" x2="780.05" y2="1701.1" stroke="#ff5555" stroke-width="1.2" />
<rect x="764.8" y="1680.3" width="30.5" height="13.6" fill="none" stroke="#ff5555" stroke-width="1.2"/>
<line x1="764.8" y1="1690.5" x2="795.3" y2="1690.5" stroke="#ff5555" stroke-width="1.2" />
<path d="M780.05 1662.7L783.75 1666.4L780.05 1670.1L776.35 1666.4Z" fill="#ff0000"/>
<path d="M780.05 1666L783.75 1669.7L780.05 1673.4L776.35 1669.7Z" fill="#ff0000"/>
<path d="M780.05 1676.6L783.75 1680.3L780.05 1684L776.35 1680.3Z" fill="#ff0000"/>
<path d="M780.05 1683.3L783.75 1687L780.05 1690.7L776.35 1687Z" fill="#ff0000"/>
<path d="M780.05 1686.8L783.75 1690.5L780.05 1694.2L776.35 1690.5Z" fill="#ff0000"/>
<path d="M780.05 1690.2L783.75 1693.9L780.05 1697.6L776.35 1693.9Z" fill="#ff0000"/>
<path d="M780.05 1697.4L783.75 1701.1L780.05 1704.8L776.35 1701.1Z" fill="#ff0000"/>
<line x1="811.45" y1="1658.7" x2="811.45" y2="1664.2" stroke="#5a5aff" stroke-width="1.2" />
<line x1="811.45" y1="1684.6" x2="811.45" y2="1700.2" stroke="#5a5aff" stroke-width="1.2" />
<rect x="796.2" y="1664.2" width="30.5" height="20.4" fill="none" stroke="#5a5aff" stroke-width="1.2"/>
<line x1="796.2" y1="1675.7" x2="826.7" y2="1675.7" stroke="#5a5aff" stroke-width="1.2" />
<path d="M811.45 1655L815.15 1658.7L811.45 1662.4L807.75 1658.7Z" fill="#0000ff"/>
<path d="M811.45 1658.8L815.15 1662.5L811.45 1666.2L807.75 1662.5Z" fill="#0000ff"/>
<path d="M811.45 1665.3L815.15 1669L811.45 1672.7L807.75 1669Z" fill="#0000ff"/>
<path d="M811.45 1672L815.15 1675.7L811.45 1679.4L807.75 1675.7Z" fill="#0000ff"/>
<path d="M811.45 1679.3L815.15 1683L811.45 1686.7L807.75 1683Z" fill="#0000ff"/>
<path d="M811.45 1696.5L815.15 1700.2L811.45 1703.9L807.75 1700.2Z" fill="#0000ff"/>
<line x1="874.55" y1="1690" x2="874.55" y2="1693" stroke="#ff5555" stroke-width="1.2" />
<line x1="874.55" y1="1703.6" x2="874.55" y2="1706.5" stroke="#ff5555" stroke-width="1.2" />
<rect x="859.3" y="1693" width="30.5" height="10.6" fill="none" stroke="#ff5555" stroke-width="1.2"/>
<line x1="859.3" y1="1702.4" x2="889.8" y2="1702.4" stroke="#ff5555" stroke-width="1.2" />
<path d="M874.55 1686.3L878.25 1690L874.55 1693.7L870.85 1690Z" fill="#ff0000"/>
<path d="M874.55 1691.3L878.25 1695L874.55 1698.7L870.85 1695Z" fill="#ff0000"/>
<path d="M874.55 1697.3L878.25 1701L874.55 1704.7L870.85 1701Z" fill="#ff0000"/>
<path d="M874.55 1702.8L878.25 1706.5L874.55 1710.2L870.85 1706.5Z" fill="#ff0000"/>
<rect x="890.55" y="1703.2" width="30.9" height="2.6" fill="none" stroke="#5a5aff" stroke-width="1.2"/>
<line x1="890.55" y1="1704.5" x2="921.45" y2="1704.5" stroke="#5a5aff" stroke-width="1.2" />
<path d="M906 1698.8L909.7 1702.5L906 1706.2L902.3 1702.5Z" fill="#0000ff"/>
<path d="M906 1701.8L909.7 1705.5L906 1709.2L902.3 1705.5Z" fill="#0000ff"/>
<line x1="969.6" y1="1694.5" x2="969.6" y2="1700.2" stroke="#ff5555" stroke-width="1.2" />
<line x1="969.6" y1="1706.6" x2="969.6" y2="1708.5" stroke="#ff5555" stroke-width="1.2" />
<rect x="954.2" y="1700.2" width="30.8" height="6.4" fill="none" stroke="#ff5555" stroke-width="1.2"/>
<line x1="954.2" y1="1703.5" x2="985" y2="1703.5" stroke="#ff5555" stroke-width="1.2" />
<path d="M969.6 1690.8L973.3 1694.5L969.6 1698.2L965.9 1694.5Z" fill="#ff0000"/>
<path d="M969.6 1697.8L973.3 1701.5L969.6 1705.2L965.9 1701.5Z" fill="#ff0000"/>
<path d="M969.6 1701.3L973.3 1705L969.6 1708.7L965.9 1705Z" fill="#ff0000"/>
<path d="M969.6 1704.8L973.3 1708.5L969.6 1712.2L965.9 1708.5Z" fill="#ff0000"/>
<rect x="986" y="1708.2" width="30.8" height="0.8" fill="none" stroke="#5a5aff" stroke-width="1.2"/>
<line x1="986" y1="1708.6" x2="1016.8" y2="1708.6" stroke="#5a5aff" stroke-width="1.2" />
<path d="M996.4 1703.8L1000.1 1707.5L996.4 1711.2L992.7 1707.5Z" fill="#0000ff"/>
<path d="M1001.4 1704.8L1005.1 1708.5L1001.4 1712.2L997.7 1708.5Z" fill="#0000ff"/>
<path d="M1006.4 1704.8L1010.1 1708.5L1006.4 1712.2L1002.7 1708.5Z" fill="#0000ff"/>
<text x="669.08" y="1775.2" text-anchor="start" font-size="26" fill="#000" xml:space="preserve">Triple</text>
<text x="649.5" y="1804.9" text-anchor="start" font-size="26" fill="#000" xml:space="preserve">Negative</text>
<text x="768.05" y="1775.2" text-anchor="start" font-size="26" fill="#000" xml:space="preserve">Single</text>
<text x="758.19" y="1804.9" text-anchor="start" font-size="26" fill="#000" xml:space="preserve">Positive</text>
<text x="860.81" y="1775.2" text-anchor="start" font-size="26" fill="#000" xml:space="preserve">Double</text>
<text x="856.49" y="1804.9" text-anchor="start" font-size="26" fill="#000" xml:space="preserve">Positive</text>
<text x="974.08" y="1775.2" text-anchor="start" font-size="26" fill="#000" xml:space="preserve">Triple</text>
<text x="960.29" y="1804.9" text-anchor="start" font-size="26" fill="#000" xml:space="preserve">Positive</text>
<path d="M1043.7 1689.1L1049.3 1694.7L1043.7 1700.3L1038.1 1694.7Z" fill="#ff0000"/>
<path d="M1043.7 1730.6L1049.3 1736.2L1043.7 1741.8L1038.1 1736.2Z" fill="#0000ff"/>
<text x="1050.78" y="1701.5" text-anchor="start" font-size="21" fill="#000" xml:space="preserve">Low Grade</text>
<text x="1050.7" y="1722" text-anchor="start" font-size="21" fill="#000" xml:space="preserve">(n=10)</text>
<text x="1050.78" y="1743" text-anchor="start" font-size="21" fill="#000" xml:space="preserve">High Grade</text>
<text x="1050.7" y="1763.5" text-anchor="start" font-size="21" fill="#000" xml:space="preserve">(n=8)</text>
<text transform="translate(22.77,1864.19) scale(1.0350,1)" font-size="41" fill="#000">(g)</text>
<rect x="96" y="1905.6" width="367.9" height="268.2" fill="none" stroke="#4a4a4a" stroke-width="1.3"/>
<line x1="91.5" y1="2173.8" x2="96" y2="2173.8" stroke="#4a4a4a" stroke-width="1.3" />
<line x1="93.5" y1="2140.28" x2="96" y2="2140.28" stroke="#4a4a4a" stroke-width="1.3" />
<line x1="91.5" y1="2106.75" x2="96" y2="2106.75" stroke="#4a4a4a" stroke-width="1.3" />
<line x1="93.5" y1="2073.23" x2="96" y2="2073.23" stroke="#4a4a4a" stroke-width="1.3" />
<line x1="91.5" y1="2039.7" x2="96" y2="2039.7" stroke="#4a4a4a" stroke-width="1.3" />
<line x1="93.5" y1="2006.18" x2="96" y2="2006.18" stroke="#4a4a4a" stroke-width="1.3" />
<line x1="91.5" y1="1972.65" x2="96" y2="1972.65" stroke="#4a4a4a" stroke-width="1.3" />
<line x1="93.5" y1="1939.13" x2="96" y2="1939.13" stroke="#4a4a4a" stroke-width="1.3" />
<line x1="91.5" y1="1905.6" x2="96" y2="1905.6" stroke="#4a4a4a" stroke-width="1.3" />
<text x="47.42" y="1914.34" text-anchor="start" font-size="26.5" fill="#000" xml:space="preserve">100</text>
<text x="60.66" y="1976.34" text-anchor="start" font-size="26.5" fill="#000" xml:space="preserve">80</text>
<text x="60.46" y="2043.94" text-anchor="start" font-size="26.5" fill="#000" xml:space="preserve">60</text>
<text x="60.16" y="2110.94" text-anchor="start" font-size="26.5" fill="#000" xml:space="preserve">40</text>
<text x="60.46" y="2179.04" text-anchor="start" font-size="26.5" fill="#000" xml:space="preserve">20</text>
<text x="207.74" y="1893.5" text-anchor="start" font-size="31.2" fill="#000" xml:space="preserve">Fr.II (CD8)</text>
<line x1="187.9" y1="1951.5" x2="187.9" y2="2019.3" stroke="#222" stroke-width="1" />
<line x1="179.4" y1="1951.5" x2="196.4" y2="1951.5" stroke="#222" stroke-width="1" />
<line x1="187.9" y1="2065.2" x2="187.9" y2="2123.6" stroke="#222" stroke-width="1" />
<line x1="179.4" y1="2123.6" x2="196.4" y2="2123.6" stroke="#222" stroke-width="1" />
<rect x="114.4" y="2019.3" width="147" height="45.9" fill="none" stroke="#222" stroke-width="1"/>
<line x1="114.4" y1="2064" x2="261.4" y2="2064" stroke="#222" stroke-width="1" />
<rect x="186.3" y="2034.4" width="3.2" height="3.2" fill="none" stroke="#777" stroke-width="0.8"/>
<path d="M187.9 1947.8L191.6 1951.5L187.9 1955.2L184.2 1951.5Z" fill="#000"/>
<path d="M187.9 2015.6L191.6 2019.3L187.9 2023L184.2 2019.3Z" fill="#000"/>
<path d="M187.9 2060.8L191.6 2064.5L187.9 2068.2L184.2 2064.5Z" fill="#000"/>
<path d="M187.9 2119.9L191.6 2123.6L187.9 2127.3L184.2 2123.6Z" fill="#000"/>
<line x1="371.95" y1="2076.4" x2="371.95" y2="2079.6" stroke="#222" stroke-width="1" />
<line x1="363.45" y1="2079.6" x2="380.45" y2="2079.6" stroke="#222" stroke-width="1" />
<rect x="298.9" y="2046.7" width="146.1" height="29.7" fill="none" stroke="#222" stroke-width="1"/>
<line x1="298.9" y1="2068.8" x2="445" y2="2068.8" stroke="#222" stroke-width="1" />
<rect x="370.35" y="2053.2" width="3.2" height="3.2" fill="none" stroke="#777" stroke-width="0.8"/>
<path d="M371.95 1982.8L375.65 1986.5L371.95 1990.2L368.25 1986.5Z" fill="#000"/>
<path d="M371.95 2043L375.65 2046.7L371.95 2050.4L368.25 2046.7Z" fill="#000"/>
<path d="M371.95 2060.3L375.65 2064L371.95 2067.7L368.25 2064Z" fill="#000"/>
<path d="M371.95 2063.3L375.65 2067L371.95 2070.7L368.25 2067Z" fill="#000"/>
<path d="M371.95 2068.3L375.65 2072L371.95 2075.7L368.25 2072Z" fill="#000"/>
<path d="M371.95 2075.9L375.65 2079.6L371.95 2083.3L368.25 2079.6Z" fill="#000"/>
<line x1="187.9" y1="2173.9" x2="187.9" y2="2178.4" stroke="#4a4a4a" stroke-width="1.3" />
<line x1="371.95" y1="2173.9" x2="371.95" y2="2178.4" stroke="#4a4a4a" stroke-width="1.3" />
<text x="118.33" y="2210.2" text-anchor="start" font-size="31.3" fill="#000" xml:space="preserve">Low Grade</text>
<text x="157.83" y="2240.42" text-anchor="start" font-size="31.3" fill="#000" xml:space="preserve">(n=5)</text>
<text x="300.93" y="2210.2" text-anchor="start" font-size="31.3" fill="#000" xml:space="preserve">High Grade</text>
<text x="344.53" y="2240.42" text-anchor="start" font-size="31.3" fill="#000" xml:space="preserve">(n=6)</text>
<rect x="602.5" y="1903.9" width="370.9" height="272.3" fill="none" stroke="#4a4a4a" stroke-width="1.3"/>
<line x1="598" y1="2176.95" x2="602.5" y2="2176.95" stroke="#4a4a4a" stroke-width="1.3" />
<line x1="600" y1="2142.82" x2="602.5" y2="2142.82" stroke="#4a4a4a" stroke-width="1.3" />
<line x1="598" y1="2108.7" x2="602.5" y2="2108.7" stroke="#4a4a4a" stroke-width="1.3" />
<line x1="600" y1="2074.57" x2="602.5" y2="2074.57" stroke="#4a4a4a" stroke-width="1.3" />
<line x1="598" y1="2040.45" x2="602.5" y2="2040.45" stroke="#4a4a4a" stroke-width="1.3" />
<line x1="600" y1="2006.32" x2="602.5" y2="2006.32" stroke="#4a4a4a" stroke-width="1.3" />
<line x1="598" y1="1972.2" x2="602.5" y2="1972.2" stroke="#4a4a4a" stroke-width="1.3" />
<line x1="600" y1="1938.07" x2="602.5" y2="1938.07" stroke="#4a4a4a" stroke-width="1.3" />
<line x1="598" y1="1903.95" x2="602.5" y2="1903.95" stroke="#4a4a4a" stroke-width="1.3" />
<text x="563.06" y="1914.64" text-anchor="start" font-size="26.5" fill="#000" xml:space="preserve">60</text>
<text x="563.06" y="1981.74" text-anchor="start" font-size="26.5" fill="#000" xml:space="preserve">40</text>
<text x="563.06" y="2043.54" text-anchor="start" font-size="26.5" fill="#000" xml:space="preserve">20</text>
<text x="577.5" y="2116.74" text-anchor="start" font-size="26.5" fill="#000" xml:space="preserve">0</text>
<text x="714.44" y="1893.5" text-anchor="start" font-size="31.2" fill="#000" xml:space="preserve">Fr.II (CD8)</text>
<line x1="710.6" y1="1941.7" x2="857.5" y2="1941.7" stroke="#333" stroke-width="1.9" />
<text x="775.64" y="1936.43" text-anchor="start" font-size="27" fill="#000" xml:space="preserve">*</text>
<line x1="695.5" y1="1967.6" x2="695.5" y2="1973" stroke="#222" stroke-width="1" />
<line x1="687" y1="1967.6" x2="704" y2="1967.6" stroke="#222" stroke-width="1" />
<line x1="695.5" y1="2059.8" x2="695.5" y2="2086.7" stroke="#222" stroke-width="1" />
<line x1="687" y1="2086.7" x2="704" y2="2086.7" stroke="#222" stroke-width="1" />
<rect x="621.3" y="1973" width="148.4" height="86.8" fill="none" stroke="#222" stroke-width="1"/>
<line x1="621.3" y1="2056.6" x2="769.7" y2="2056.6" stroke="#222" stroke-width="1" />
<rect x="693.9" y="2026.7" width="3.2" height="3.2" fill="none" stroke="#777" stroke-width="0.8"/>
<path d="M695.5 1963.9L699.2 1967.6L695.5 1971.3L691.8 1967.6Z" fill="#000"/>
<path d="M695.5 1969.3L699.2 1973L695.5 1976.7L691.8 1973Z" fill="#000"/>
<path d="M695.5 2052.9L699.2 2056.6L695.5 2060.3L691.8 2056.6Z" fill="#000"/>
<path d="M695.5 2056.1L699.2 2059.8L695.5 2063.5L691.8 2059.8Z" fill="#000"/>
<path d="M695.5 2083L699.2 2086.7L695.5 2090.4L691.8 2086.7Z" fill="#000"/>
<line x1="880.65" y1="2081.8" x2="880.65" y2="2084" stroke="#222" stroke-width="1" />
<line x1="872.15" y1="2081.8" x2="889.15" y2="2081.8" stroke="#222" stroke-width="1" />
<line x1="880.65" y1="2107" x2="880.65" y2="2108" stroke="#222" stroke-width="1" />
<line x1="872.15" y1="2108" x2="889.15" y2="2108" stroke="#222" stroke-width="1" />
<rect x="806.5" y="2084" width="148.3" height="23" fill="none" stroke="#222" stroke-width="1"/>
<line x1="806.5" y1="2096.6" x2="954.8" y2="2096.6" stroke="#222" stroke-width="1" />
<path d="M880.65 2078.1L884.35 2081.8L880.65 2085.5L876.95 2081.8Z" fill="#000"/>
<path d="M880.65 2080.3L884.35 2084L880.65 2087.7L876.95 2084Z" fill="#000"/>
<path d="M880.65 2086.3L884.35 2090L880.65 2093.7L876.95 2090Z" fill="#000"/>
<path d="M880.65 2095.3L884.35 2099L880.65 2102.7L876.95 2099Z" fill="#000"/>
<path d="M880.65 2103.3L884.35 2107L880.65 2110.7L876.95 2107Z" fill="#000"/>
<line x1="695.5" y1="2176.2" x2="695.5" y2="2180.7" stroke="#4a4a4a" stroke-width="1.3" />
<line x1="880.65" y1="2176.2" x2="880.65" y2="2180.7" stroke="#4a4a4a" stroke-width="1.3" />
<text x="625.43" y="2210.2" text-anchor="start" font-size="31.3" fill="#000" xml:space="preserve">Low Grade</text>
<text x="665.63" y="2240.42" text-anchor="start" font-size="31.3" fill="#000" xml:space="preserve">(n=5)</text>
<text x="808.13" y="2210.2" text-anchor="start" font-size="31.3" fill="#000" xml:space="preserve">High Grade</text>
<text x="851.53" y="2240.42" text-anchor="start" font-size="31.3" fill="#000" xml:space="preserve">(n=6)</text>
<text transform="translate(45,2218.01) rotate(-90)" font-size="31.12" fill="#000">% of GZMB+CD8 T cells</text>
<text transform="translate(542.1,2281.5) rotate(-90)" font-size="30.99" fill="#000">% of GZMB+PRF1+CD8 T cells</text>
</svg>
</body></html>
